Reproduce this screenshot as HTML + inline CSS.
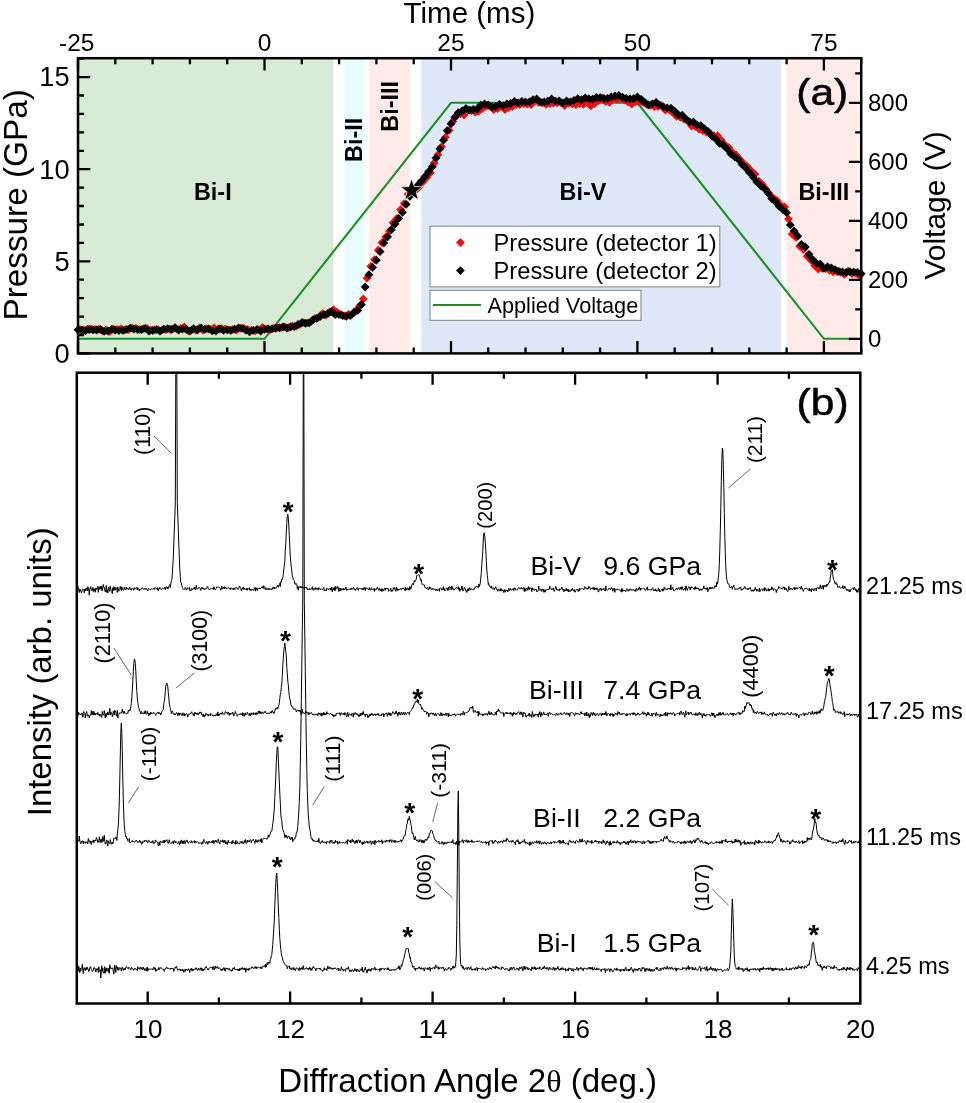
<!DOCTYPE html>
<html lang="en"><head><meta charset="utf-8"><title>Bi phase transitions under dynamic compression</title>
<style>
html,body{margin:0;padding:0;background:#fff;}
body{width:966px;height:1103px;overflow:hidden;}
svg{display:block;font-family:"Liberation Sans", Arial, sans-serif;fill:#000;}
.ax{stroke:#000;stroke-width:2.5;fill:none;stroke-linecap:square}
.tk{stroke:#000;stroke-width:2.3;fill:none}
.tl{font-size:24.5px}
.tl2{font-size:27.3px}
.tl3{font-size:24px}
.bd{font-weight:bold;font-size:23.4px}
.pk{font-size:22px}
.tr{fill:none;stroke:#000;stroke-width:1;stroke-linejoin:round}
.ld{stroke:#555;stroke-width:0.9;fill:none}
.st{font-weight:bold;font-size:28px;text-anchor:middle}
.lb{font-size:23.75px}
.ph{font-size:26.7px}
.tm{font-size:23.5px}
</style></head><body>
<svg width="966" height="1103" viewBox="0 0 966 1103">
<rect width="966" height="1103" fill="#fff"/>

<g id="regions">
<rect x="78.0" y="58.2" width="255.2" height="295.2" fill="#d7ebd6"/>
<rect x="344.5" y="58.2" width="20.1" height="295.2" fill="#e8fcfd"/>
<rect x="368.8" y="58.2" width="40.5" height="295.2" fill="#fdeae9"/>
<rect x="421.2" y="58.2" width="360.0" height="295.2" fill="#dfe8f8"/>
<rect x="786.6" y="58.2" width="71.8" height="295.2" fill="#fdeae9"/>
</g>
<polyline fill="none" stroke="#1c9026" stroke-width="2.1" stroke-linejoin="miter" points="78.0,338.8 264.5,338.8 451.0,102.8 637.4,102.8 823.9,338.8 850.2,338.8"/>
<g id="pressure-data">
<path fill="#f10d0d" d="M79.9,324.9l4.4,4.4l-4.4,4.4l-4.4,-4.4zM83.6,325.6l4.4,4.4l-4.4,4.4l-4.4,-4.4zM87.3,324.8l4.4,4.4l-4.4,4.4l-4.4,-4.4zM91.1,324.5l4.4,4.4l-4.4,4.4l-4.4,-4.4zM94.8,325.0l4.4,4.4l-4.4,4.4l-4.4,-4.4zM98.5,324.8l4.4,4.4l-4.4,4.4l-4.4,-4.4zM102.2,326.3l4.4,4.4l-4.4,4.4l-4.4,-4.4zM106.0,325.8l4.4,4.4l-4.4,4.4l-4.4,-4.4zM109.7,327.3l4.4,4.4l-4.4,4.4l-4.4,-4.4zM113.4,324.6l4.4,4.4l-4.4,4.4l-4.4,-4.4zM117.2,325.0l4.4,4.4l-4.4,4.4l-4.4,-4.4zM120.9,324.2l4.4,4.4l-4.4,4.4l-4.4,-4.4zM124.6,325.6l4.4,4.4l-4.4,4.4l-4.4,-4.4zM128.3,325.3l4.4,4.4l-4.4,4.4l-4.4,-4.4zM132.1,323.6l4.4,4.4l-4.4,4.4l-4.4,-4.4zM135.8,323.7l4.4,4.4l-4.4,4.4l-4.4,-4.4zM139.5,325.2l4.4,4.4l-4.4,4.4l-4.4,-4.4zM143.3,324.3l4.4,4.4l-4.4,4.4l-4.4,-4.4zM147.0,324.0l4.4,4.4l-4.4,4.4l-4.4,-4.4zM150.7,325.7l4.4,4.4l-4.4,4.4l-4.4,-4.4zM154.5,325.5l4.4,4.4l-4.4,4.4l-4.4,-4.4zM158.2,325.2l4.4,4.4l-4.4,4.4l-4.4,-4.4zM161.9,325.7l4.4,4.4l-4.4,4.4l-4.4,-4.4zM165.6,325.3l4.4,4.4l-4.4,4.4l-4.4,-4.4zM169.4,324.5l4.4,4.4l-4.4,4.4l-4.4,-4.4zM173.1,324.4l4.4,4.4l-4.4,4.4l-4.4,-4.4zM176.8,324.7l4.4,4.4l-4.4,4.4l-4.4,-4.4zM180.6,324.0l4.4,4.4l-4.4,4.4l-4.4,-4.4zM184.3,322.5l4.4,4.4l-4.4,4.4l-4.4,-4.4zM188.0,326.4l4.4,4.4l-4.4,4.4l-4.4,-4.4zM191.8,325.4l4.4,4.4l-4.4,4.4l-4.4,-4.4zM195.5,325.7l4.4,4.4l-4.4,4.4l-4.4,-4.4zM199.2,323.5l4.4,4.4l-4.4,4.4l-4.4,-4.4zM202.9,325.8l4.4,4.4l-4.4,4.4l-4.4,-4.4zM206.7,324.3l4.4,4.4l-4.4,4.4l-4.4,-4.4zM210.4,324.8l4.4,4.4l-4.4,4.4l-4.4,-4.4zM214.1,323.4l4.4,4.4l-4.4,4.4l-4.4,-4.4zM217.9,324.5l4.4,4.4l-4.4,4.4l-4.4,-4.4zM221.6,324.1l4.4,4.4l-4.4,4.4l-4.4,-4.4zM225.3,324.5l4.4,4.4l-4.4,4.4l-4.4,-4.4zM229.0,325.4l4.4,4.4l-4.4,4.4l-4.4,-4.4zM232.8,325.0l4.4,4.4l-4.4,4.4l-4.4,-4.4zM236.5,325.8l4.4,4.4l-4.4,4.4l-4.4,-4.4zM240.2,323.8l4.4,4.4l-4.4,4.4l-4.4,-4.4zM244.0,323.9l4.4,4.4l-4.4,4.4l-4.4,-4.4zM247.7,325.0l4.4,4.4l-4.4,4.4l-4.4,-4.4zM251.4,325.8l4.4,4.4l-4.4,4.4l-4.4,-4.4zM255.2,326.4l4.4,4.4l-4.4,4.4l-4.4,-4.4zM258.9,325.6l4.4,4.4l-4.4,4.4l-4.4,-4.4zM262.6,322.9l4.4,4.4l-4.4,4.4l-4.4,-4.4zM266.3,324.5l4.4,4.4l-4.4,4.4l-4.4,-4.4zM270.1,325.3l4.4,4.4l-4.4,4.4l-4.4,-4.4zM273.8,323.7l4.4,4.4l-4.4,4.4l-4.4,-4.4zM277.5,322.9l4.4,4.4l-4.4,4.4l-4.4,-4.4zM281.3,323.3l4.4,4.4l-4.4,4.4l-4.4,-4.4zM285.0,322.4l4.4,4.4l-4.4,4.4l-4.4,-4.4zM288.7,323.1l4.4,4.4l-4.4,4.4l-4.4,-4.4zM292.4,321.7l4.4,4.4l-4.4,4.4l-4.4,-4.4zM296.2,321.8l4.4,4.4l-4.4,4.4l-4.4,-4.4zM299.9,320.0l4.4,4.4l-4.4,4.4l-4.4,-4.4zM303.6,318.0l4.4,4.4l-4.4,4.4l-4.4,-4.4zM307.4,318.4l4.4,4.4l-4.4,4.4l-4.4,-4.4zM311.1,317.0l4.4,4.4l-4.4,4.4l-4.4,-4.4zM314.8,314.0l4.4,4.4l-4.4,4.4l-4.4,-4.4zM318.6,312.9l4.4,4.4l-4.4,4.4l-4.4,-4.4zM322.3,309.2l4.4,4.4l-4.4,4.4l-4.4,-4.4zM326.0,310.7l4.4,4.4l-4.4,4.4l-4.4,-4.4zM329.7,307.5l4.4,4.4l-4.4,4.4l-4.4,-4.4zM333.5,305.3l4.4,4.4l-4.4,4.4l-4.4,-4.4zM337.2,308.1l4.4,4.4l-4.4,4.4l-4.4,-4.4zM340.9,310.1l4.4,4.4l-4.4,4.4l-4.4,-4.4zM344.7,311.5l4.4,4.4l-4.4,4.4l-4.4,-4.4zM348.4,309.9l4.4,4.4l-4.4,4.4l-4.4,-4.4zM352.1,309.8l4.4,4.4l-4.4,4.4l-4.4,-4.4zM355.8,306.2l4.4,4.4l-4.4,4.4l-4.4,-4.4zM359.6,301.6l4.4,4.4l-4.4,4.4l-4.4,-4.4zM363.3,294.4l4.4,4.4l-4.4,4.4l-4.4,-4.4zM367.0,273.8l4.4,4.4l-4.4,4.4l-4.4,-4.4zM370.8,261.9l4.4,4.4l-4.4,4.4l-4.4,-4.4zM374.5,255.3l4.4,4.4l-4.4,4.4l-4.4,-4.4zM378.2,245.8l4.4,4.4l-4.4,4.4l-4.4,-4.4zM382.0,238.2l4.4,4.4l-4.4,4.4l-4.4,-4.4zM385.7,232.6l4.4,4.4l-4.4,4.4l-4.4,-4.4zM389.4,226.8l4.4,4.4l-4.4,4.4l-4.4,-4.4zM393.1,218.3l4.4,4.4l-4.4,4.4l-4.4,-4.4zM396.9,214.0l4.4,4.4l-4.4,4.4l-4.4,-4.4zM400.6,205.2l4.4,4.4l-4.4,4.4l-4.4,-4.4zM404.3,199.1l4.4,4.4l-4.4,4.4l-4.4,-4.4zM408.1,189.8l4.4,4.4l-4.4,4.4l-4.4,-4.4zM411.8,184.8l4.4,4.4l-4.4,4.4l-4.4,-4.4zM415.5,186.3l4.4,4.4l-4.4,4.4l-4.4,-4.4zM419.3,182.8l4.4,4.4l-4.4,4.4l-4.4,-4.4zM423.0,177.3l4.4,4.4l-4.4,4.4l-4.4,-4.4zM426.7,173.2l4.4,4.4l-4.4,4.4l-4.4,-4.4zM430.4,168.3l4.4,4.4l-4.4,4.4l-4.4,-4.4zM434.2,158.5l4.4,4.4l-4.4,4.4l-4.4,-4.4zM437.9,150.3l4.4,4.4l-4.4,4.4l-4.4,-4.4zM441.6,142.4l4.4,4.4l-4.4,4.4l-4.4,-4.4zM445.4,132.9l4.4,4.4l-4.4,4.4l-4.4,-4.4zM449.1,126.0l4.4,4.4l-4.4,4.4l-4.4,-4.4zM452.8,117.2l4.4,4.4l-4.4,4.4l-4.4,-4.4zM456.5,111.4l4.4,4.4l-4.4,4.4l-4.4,-4.4zM460.3,109.5l4.4,4.4l-4.4,4.4l-4.4,-4.4zM464.0,110.5l4.4,4.4l-4.4,4.4l-4.4,-4.4zM467.7,106.2l4.4,4.4l-4.4,4.4l-4.4,-4.4zM471.5,106.3l4.4,4.4l-4.4,4.4l-4.4,-4.4zM475.2,107.8l4.4,4.4l-4.4,4.4l-4.4,-4.4zM478.9,106.5l4.4,4.4l-4.4,4.4l-4.4,-4.4zM482.7,103.9l4.4,4.4l-4.4,4.4l-4.4,-4.4zM486.4,101.7l4.4,4.4l-4.4,4.4l-4.4,-4.4zM490.1,102.0l4.4,4.4l-4.4,4.4l-4.4,-4.4zM493.8,105.1l4.4,4.4l-4.4,4.4l-4.4,-4.4zM497.6,104.2l4.4,4.4l-4.4,4.4l-4.4,-4.4zM501.3,102.2l4.4,4.4l-4.4,4.4l-4.4,-4.4zM505.0,105.2l4.4,4.4l-4.4,4.4l-4.4,-4.4zM508.8,103.2l4.4,4.4l-4.4,4.4l-4.4,-4.4zM512.5,102.0l4.4,4.4l-4.4,4.4l-4.4,-4.4zM516.2,100.1l4.4,4.4l-4.4,4.4l-4.4,-4.4zM519.9,100.1l4.4,4.4l-4.4,4.4l-4.4,-4.4zM523.7,99.3l4.4,4.4l-4.4,4.4l-4.4,-4.4zM527.4,99.6l4.4,4.4l-4.4,4.4l-4.4,-4.4zM531.1,100.3l4.4,4.4l-4.4,4.4l-4.4,-4.4zM534.9,96.6l4.4,4.4l-4.4,4.4l-4.4,-4.4zM538.6,97.9l4.4,4.4l-4.4,4.4l-4.4,-4.4zM542.3,98.5l4.4,4.4l-4.4,4.4l-4.4,-4.4zM546.1,99.9l4.4,4.4l-4.4,4.4l-4.4,-4.4zM549.8,99.1l4.4,4.4l-4.4,4.4l-4.4,-4.4zM553.5,98.6l4.4,4.4l-4.4,4.4l-4.4,-4.4zM557.2,98.4l4.4,4.4l-4.4,4.4l-4.4,-4.4zM561.0,98.4l4.4,4.4l-4.4,4.4l-4.4,-4.4zM564.7,101.1l4.4,4.4l-4.4,4.4l-4.4,-4.4zM568.4,98.8l4.4,4.4l-4.4,4.4l-4.4,-4.4zM572.2,99.5l4.4,4.4l-4.4,4.4l-4.4,-4.4zM575.9,100.1l4.4,4.4l-4.4,4.4l-4.4,-4.4zM579.6,99.3l4.4,4.4l-4.4,4.4l-4.4,-4.4zM583.4,99.9l4.4,4.4l-4.4,4.4l-4.4,-4.4zM587.1,96.8l4.4,4.4l-4.4,4.4l-4.4,-4.4zM590.8,101.5l4.4,4.4l-4.4,4.4l-4.4,-4.4zM594.5,99.3l4.4,4.4l-4.4,4.4l-4.4,-4.4zM598.3,96.3l4.4,4.4l-4.4,4.4l-4.4,-4.4zM602.0,93.5l4.4,4.4l-4.4,4.4l-4.4,-4.4zM605.7,97.3l4.4,4.4l-4.4,4.4l-4.4,-4.4zM609.5,97.9l4.4,4.4l-4.4,4.4l-4.4,-4.4zM613.2,94.1l4.4,4.4l-4.4,4.4l-4.4,-4.4zM616.9,95.0l4.4,4.4l-4.4,4.4l-4.4,-4.4zM620.6,94.0l4.4,4.4l-4.4,4.4l-4.4,-4.4zM624.4,95.6l4.4,4.4l-4.4,4.4l-4.4,-4.4zM628.1,97.7l4.4,4.4l-4.4,4.4l-4.4,-4.4zM631.8,99.6l4.4,4.4l-4.4,4.4l-4.4,-4.4zM635.6,97.2l4.4,4.4l-4.4,4.4l-4.4,-4.4zM639.3,97.8l4.4,4.4l-4.4,4.4l-4.4,-4.4zM643.0,97.9l4.4,4.4l-4.4,4.4l-4.4,-4.4zM646.8,100.1l4.4,4.4l-4.4,4.4l-4.4,-4.4zM650.5,100.9l4.4,4.4l-4.4,4.4l-4.4,-4.4zM654.2,102.1l4.4,4.4l-4.4,4.4l-4.4,-4.4zM657.9,102.0l4.4,4.4l-4.4,4.4l-4.4,-4.4zM661.7,101.3l4.4,4.4l-4.4,4.4l-4.4,-4.4zM665.4,105.7l4.4,4.4l-4.4,4.4l-4.4,-4.4zM669.1,105.0l4.4,4.4l-4.4,4.4l-4.4,-4.4zM672.9,108.5l4.4,4.4l-4.4,4.4l-4.4,-4.4zM676.6,112.0l4.4,4.4l-4.4,4.4l-4.4,-4.4zM680.3,112.9l4.4,4.4l-4.4,4.4l-4.4,-4.4zM684.0,114.8l4.4,4.4l-4.4,4.4l-4.4,-4.4zM687.8,116.7l4.4,4.4l-4.4,4.4l-4.4,-4.4zM691.5,121.6l4.4,4.4l-4.4,4.4l-4.4,-4.4zM695.2,122.0l4.4,4.4l-4.4,4.4l-4.4,-4.4zM699.0,124.6l4.4,4.4l-4.4,4.4l-4.4,-4.4zM702.7,126.3l4.4,4.4l-4.4,4.4l-4.4,-4.4zM706.4,127.6l4.4,4.4l-4.4,4.4l-4.4,-4.4zM710.2,129.3l4.4,4.4l-4.4,4.4l-4.4,-4.4zM713.9,131.2l4.4,4.4l-4.4,4.4l-4.4,-4.4zM717.6,131.3l4.4,4.4l-4.4,4.4l-4.4,-4.4zM721.3,135.7l4.4,4.4l-4.4,4.4l-4.4,-4.4zM725.1,140.5l4.4,4.4l-4.4,4.4l-4.4,-4.4zM728.8,143.3l4.4,4.4l-4.4,4.4l-4.4,-4.4zM732.5,148.0l4.4,4.4l-4.4,4.4l-4.4,-4.4zM736.3,150.8l4.4,4.4l-4.4,4.4l-4.4,-4.4zM740.0,155.1l4.4,4.4l-4.4,4.4l-4.4,-4.4zM743.7,159.2l4.4,4.4l-4.4,4.4l-4.4,-4.4zM747.4,162.0l4.4,4.4l-4.4,4.4l-4.4,-4.4zM751.2,166.4l4.4,4.4l-4.4,4.4l-4.4,-4.4zM754.9,169.6l4.4,4.4l-4.4,4.4l-4.4,-4.4zM758.6,176.5l4.4,4.4l-4.4,4.4l-4.4,-4.4zM762.4,180.1l4.4,4.4l-4.4,4.4l-4.4,-4.4zM766.1,184.9l4.4,4.4l-4.4,4.4l-4.4,-4.4zM769.8,190.0l4.4,4.4l-4.4,4.4l-4.4,-4.4zM773.6,193.7l4.4,4.4l-4.4,4.4l-4.4,-4.4zM777.3,196.3l4.4,4.4l-4.4,4.4l-4.4,-4.4zM781.0,200.9l4.4,4.4l-4.4,4.4l-4.4,-4.4zM784.7,202.5l4.4,4.4l-4.4,4.4l-4.4,-4.4zM788.5,214.7l4.4,4.4l-4.4,4.4l-4.4,-4.4zM792.2,229.7l4.4,4.4l-4.4,4.4l-4.4,-4.4zM795.9,233.0l4.4,4.4l-4.4,4.4l-4.4,-4.4zM799.7,241.8l4.4,4.4l-4.4,4.4l-4.4,-4.4zM803.4,244.9l4.4,4.4l-4.4,4.4l-4.4,-4.4zM807.1,251.9l4.4,4.4l-4.4,4.4l-4.4,-4.4zM810.9,255.8l4.4,4.4l-4.4,4.4l-4.4,-4.4zM814.6,261.2l4.4,4.4l-4.4,4.4l-4.4,-4.4zM818.3,264.6l4.4,4.4l-4.4,4.4l-4.4,-4.4zM822.0,264.0l4.4,4.4l-4.4,4.4l-4.4,-4.4zM825.8,264.1l4.4,4.4l-4.4,4.4l-4.4,-4.4zM829.5,265.9l4.4,4.4l-4.4,4.4l-4.4,-4.4zM833.2,267.5l4.4,4.4l-4.4,4.4l-4.4,-4.4zM837.0,267.1l4.4,4.4l-4.4,4.4l-4.4,-4.4zM840.7,267.9l4.4,4.4l-4.4,4.4l-4.4,-4.4zM844.4,270.0l4.4,4.4l-4.4,4.4l-4.4,-4.4zM848.1,266.8l4.4,4.4l-4.4,4.4l-4.4,-4.4zM851.9,269.2l4.4,4.4l-4.4,4.4l-4.4,-4.4zM855.6,268.6l4.4,4.4l-4.4,4.4l-4.4,-4.4zM859.3,271.3l4.4,4.4l-4.4,4.4l-4.4,-4.4z"/>
<path fill="#000" d="M78.0,325.4l4.4,4.4l-4.4,4.4l-4.4,-4.4zM81.7,325.7l4.4,4.4l-4.4,4.4l-4.4,-4.4zM85.5,326.3l4.4,4.4l-4.4,4.4l-4.4,-4.4zM89.2,325.1l4.4,4.4l-4.4,4.4l-4.4,-4.4zM92.9,325.5l4.4,4.4l-4.4,4.4l-4.4,-4.4zM96.6,325.6l4.4,4.4l-4.4,4.4l-4.4,-4.4zM100.4,324.9l4.4,4.4l-4.4,4.4l-4.4,-4.4zM104.1,327.0l4.4,4.4l-4.4,4.4l-4.4,-4.4zM107.8,326.6l4.4,4.4l-4.4,4.4l-4.4,-4.4zM111.6,324.9l4.4,4.4l-4.4,4.4l-4.4,-4.4zM115.3,325.7l4.4,4.4l-4.4,4.4l-4.4,-4.4zM119.0,326.2l4.4,4.4l-4.4,4.4l-4.4,-4.4zM122.8,326.0l4.4,4.4l-4.4,4.4l-4.4,-4.4zM126.5,325.0l4.4,4.4l-4.4,4.4l-4.4,-4.4zM130.2,323.8l4.4,4.4l-4.4,4.4l-4.4,-4.4zM133.9,324.8l4.4,4.4l-4.4,4.4l-4.4,-4.4zM137.7,325.2l4.4,4.4l-4.4,4.4l-4.4,-4.4zM141.4,325.3l4.4,4.4l-4.4,4.4l-4.4,-4.4zM145.1,323.9l4.4,4.4l-4.4,4.4l-4.4,-4.4zM148.9,326.6l4.4,4.4l-4.4,4.4l-4.4,-4.4zM152.6,326.1l4.4,4.4l-4.4,4.4l-4.4,-4.4zM156.3,325.1l4.4,4.4l-4.4,4.4l-4.4,-4.4zM160.0,326.8l4.4,4.4l-4.4,4.4l-4.4,-4.4zM163.8,324.7l4.4,4.4l-4.4,4.4l-4.4,-4.4zM167.5,324.3l4.4,4.4l-4.4,4.4l-4.4,-4.4zM171.2,325.1l4.4,4.4l-4.4,4.4l-4.4,-4.4zM175.0,323.2l4.4,4.4l-4.4,4.4l-4.4,-4.4zM178.7,325.6l4.4,4.4l-4.4,4.4l-4.4,-4.4zM182.4,324.7l4.4,4.4l-4.4,4.4l-4.4,-4.4zM186.2,325.0l4.4,4.4l-4.4,4.4l-4.4,-4.4zM189.9,326.8l4.4,4.4l-4.4,4.4l-4.4,-4.4zM193.6,324.2l4.4,4.4l-4.4,4.4l-4.4,-4.4zM197.3,325.6l4.4,4.4l-4.4,4.4l-4.4,-4.4zM201.1,323.5l4.4,4.4l-4.4,4.4l-4.4,-4.4zM204.8,324.9l4.4,4.4l-4.4,4.4l-4.4,-4.4zM208.5,324.5l4.4,4.4l-4.4,4.4l-4.4,-4.4zM212.3,326.5l4.4,4.4l-4.4,4.4l-4.4,-4.4zM216.0,326.7l4.4,4.4l-4.4,4.4l-4.4,-4.4zM219.7,324.6l4.4,4.4l-4.4,4.4l-4.4,-4.4zM223.5,325.9l4.4,4.4l-4.4,4.4l-4.4,-4.4zM227.2,325.4l4.4,4.4l-4.4,4.4l-4.4,-4.4zM230.9,326.0l4.4,4.4l-4.4,4.4l-4.4,-4.4zM234.6,324.8l4.4,4.4l-4.4,4.4l-4.4,-4.4zM238.4,323.4l4.4,4.4l-4.4,4.4l-4.4,-4.4zM242.1,324.0l4.4,4.4l-4.4,4.4l-4.4,-4.4zM245.8,325.8l4.4,4.4l-4.4,4.4l-4.4,-4.4zM249.6,327.5l4.4,4.4l-4.4,4.4l-4.4,-4.4zM253.3,325.9l4.4,4.4l-4.4,4.4l-4.4,-4.4zM257.0,324.9l4.4,4.4l-4.4,4.4l-4.4,-4.4zM260.7,326.7l4.4,4.4l-4.4,4.4l-4.4,-4.4zM264.5,325.0l4.4,4.4l-4.4,4.4l-4.4,-4.4zM268.2,324.6l4.4,4.4l-4.4,4.4l-4.4,-4.4zM271.9,324.5l4.4,4.4l-4.4,4.4l-4.4,-4.4zM275.7,324.0l4.4,4.4l-4.4,4.4l-4.4,-4.4zM279.4,323.4l4.4,4.4l-4.4,4.4l-4.4,-4.4zM283.1,322.5l4.4,4.4l-4.4,4.4l-4.4,-4.4zM286.9,323.7l4.4,4.4l-4.4,4.4l-4.4,-4.4zM290.6,322.5l4.4,4.4l-4.4,4.4l-4.4,-4.4zM294.3,322.2l4.4,4.4l-4.4,4.4l-4.4,-4.4zM298.0,320.1l4.4,4.4l-4.4,4.4l-4.4,-4.4zM301.8,318.3l4.4,4.4l-4.4,4.4l-4.4,-4.4zM305.5,318.9l4.4,4.4l-4.4,4.4l-4.4,-4.4zM309.2,318.5l4.4,4.4l-4.4,4.4l-4.4,-4.4zM313.0,315.4l4.4,4.4l-4.4,4.4l-4.4,-4.4zM316.7,314.0l4.4,4.4l-4.4,4.4l-4.4,-4.4zM320.4,311.9l4.4,4.4l-4.4,4.4l-4.4,-4.4zM324.1,310.3l4.4,4.4l-4.4,4.4l-4.4,-4.4zM327.9,309.0l4.4,4.4l-4.4,4.4l-4.4,-4.4zM331.6,307.3l4.4,4.4l-4.4,4.4l-4.4,-4.4zM335.3,310.3l4.4,4.4l-4.4,4.4l-4.4,-4.4zM339.1,310.3l4.4,4.4l-4.4,4.4l-4.4,-4.4zM342.8,311.2l4.4,4.4l-4.4,4.4l-4.4,-4.4zM346.5,311.9l4.4,4.4l-4.4,4.4l-4.4,-4.4zM350.3,311.3l4.4,4.4l-4.4,4.4l-4.4,-4.4zM354.0,308.1l4.4,4.4l-4.4,4.4l-4.4,-4.4zM357.7,306.0l4.4,4.4l-4.4,4.4l-4.4,-4.4zM361.4,300.2l4.4,4.4l-4.4,4.4l-4.4,-4.4zM365.2,282.6l4.4,4.4l-4.4,4.4l-4.4,-4.4zM368.9,270.3l4.4,4.4l-4.4,4.4l-4.4,-4.4zM372.6,263.0l4.4,4.4l-4.4,4.4l-4.4,-4.4zM376.4,255.8l4.4,4.4l-4.4,4.4l-4.4,-4.4zM380.1,247.2l4.4,4.4l-4.4,4.4l-4.4,-4.4zM383.8,238.5l4.4,4.4l-4.4,4.4l-4.4,-4.4zM387.6,232.4l4.4,4.4l-4.4,4.4l-4.4,-4.4zM391.3,225.3l4.4,4.4l-4.4,4.4l-4.4,-4.4zM395.0,219.6l4.4,4.4l-4.4,4.4l-4.4,-4.4zM398.7,214.0l4.4,4.4l-4.4,4.4l-4.4,-4.4zM402.5,207.9l4.4,4.4l-4.4,4.4l-4.4,-4.4zM406.2,199.9l4.4,4.4l-4.4,4.4l-4.4,-4.4zM409.9,192.0l4.4,4.4l-4.4,4.4l-4.4,-4.4zM413.7,186.4l4.4,4.4l-4.4,4.4l-4.4,-4.4zM417.4,181.3l4.4,4.4l-4.4,4.4l-4.4,-4.4zM421.1,176.9l4.4,4.4l-4.4,4.4l-4.4,-4.4zM424.8,172.3l4.4,4.4l-4.4,4.4l-4.4,-4.4zM428.6,167.3l4.4,4.4l-4.4,4.4l-4.4,-4.4zM432.3,162.4l4.4,4.4l-4.4,4.4l-4.4,-4.4zM436.0,153.6l4.4,4.4l-4.4,4.4l-4.4,-4.4zM439.8,144.4l4.4,4.4l-4.4,4.4l-4.4,-4.4zM443.5,135.8l4.4,4.4l-4.4,4.4l-4.4,-4.4zM447.2,126.3l4.4,4.4l-4.4,4.4l-4.4,-4.4zM451.0,119.4l4.4,4.4l-4.4,4.4l-4.4,-4.4zM454.7,113.1l4.4,4.4l-4.4,4.4l-4.4,-4.4zM458.4,108.2l4.4,4.4l-4.4,4.4l-4.4,-4.4zM462.1,106.5l4.4,4.4l-4.4,4.4l-4.4,-4.4zM465.9,104.1l4.4,4.4l-4.4,4.4l-4.4,-4.4zM469.6,105.6l4.4,4.4l-4.4,4.4l-4.4,-4.4zM473.3,105.0l4.4,4.4l-4.4,4.4l-4.4,-4.4zM477.1,104.6l4.4,4.4l-4.4,4.4l-4.4,-4.4zM480.8,100.7l4.4,4.4l-4.4,4.4l-4.4,-4.4zM484.5,99.6l4.4,4.4l-4.4,4.4l-4.4,-4.4zM488.2,100.6l4.4,4.4l-4.4,4.4l-4.4,-4.4zM492.0,102.6l4.4,4.4l-4.4,4.4l-4.4,-4.4zM495.7,101.9l4.4,4.4l-4.4,4.4l-4.4,-4.4zM499.4,100.0l4.4,4.4l-4.4,4.4l-4.4,-4.4zM503.2,101.3l4.4,4.4l-4.4,4.4l-4.4,-4.4zM506.9,99.6l4.4,4.4l-4.4,4.4l-4.4,-4.4zM510.6,99.1l4.4,4.4l-4.4,4.4l-4.4,-4.4zM514.4,97.0l4.4,4.4l-4.4,4.4l-4.4,-4.4zM518.1,98.4l4.4,4.4l-4.4,4.4l-4.4,-4.4zM521.8,96.9l4.4,4.4l-4.4,4.4l-4.4,-4.4zM525.5,97.5l4.4,4.4l-4.4,4.4l-4.4,-4.4zM529.3,97.6l4.4,4.4l-4.4,4.4l-4.4,-4.4zM533.0,95.3l4.4,4.4l-4.4,4.4l-4.4,-4.4zM536.7,94.6l4.4,4.4l-4.4,4.4l-4.4,-4.4zM540.5,97.7l4.4,4.4l-4.4,4.4l-4.4,-4.4zM544.2,97.5l4.4,4.4l-4.4,4.4l-4.4,-4.4zM547.9,96.7l4.4,4.4l-4.4,4.4l-4.4,-4.4zM551.6,94.6l4.4,4.4l-4.4,4.4l-4.4,-4.4zM555.4,96.8l4.4,4.4l-4.4,4.4l-4.4,-4.4zM559.1,96.4l4.4,4.4l-4.4,4.4l-4.4,-4.4zM562.8,98.5l4.4,4.4l-4.4,4.4l-4.4,-4.4zM566.6,96.6l4.4,4.4l-4.4,4.4l-4.4,-4.4zM570.3,97.4l4.4,4.4l-4.4,4.4l-4.4,-4.4zM574.0,95.9l4.4,4.4l-4.4,4.4l-4.4,-4.4zM577.8,94.2l4.4,4.4l-4.4,4.4l-4.4,-4.4zM581.5,95.4l4.4,4.4l-4.4,4.4l-4.4,-4.4zM585.2,93.6l4.4,4.4l-4.4,4.4l-4.4,-4.4zM588.9,94.3l4.4,4.4l-4.4,4.4l-4.4,-4.4zM592.7,94.7l4.4,4.4l-4.4,4.4l-4.4,-4.4zM596.4,93.1l4.4,4.4l-4.4,4.4l-4.4,-4.4zM600.1,93.3l4.4,4.4l-4.4,4.4l-4.4,-4.4zM603.9,94.1l4.4,4.4l-4.4,4.4l-4.4,-4.4zM607.6,94.0l4.4,4.4l-4.4,4.4l-4.4,-4.4zM611.3,92.5l4.4,4.4l-4.4,4.4l-4.4,-4.4zM615.1,91.6l4.4,4.4l-4.4,4.4l-4.4,-4.4zM618.8,91.1l4.4,4.4l-4.4,4.4l-4.4,-4.4zM622.5,92.8l4.4,4.4l-4.4,4.4l-4.4,-4.4zM626.2,93.9l4.4,4.4l-4.4,4.4l-4.4,-4.4zM630.0,94.4l4.4,4.4l-4.4,4.4l-4.4,-4.4zM633.7,94.1l4.4,4.4l-4.4,4.4l-4.4,-4.4zM637.4,92.5l4.4,4.4l-4.4,4.4l-4.4,-4.4zM641.2,94.9l4.4,4.4l-4.4,4.4l-4.4,-4.4zM644.9,97.9l4.4,4.4l-4.4,4.4l-4.4,-4.4zM648.6,100.4l4.4,4.4l-4.4,4.4l-4.4,-4.4zM652.3,99.5l4.4,4.4l-4.4,4.4l-4.4,-4.4zM656.1,97.9l4.4,4.4l-4.4,4.4l-4.4,-4.4zM659.8,100.7l4.4,4.4l-4.4,4.4l-4.4,-4.4zM663.5,102.4l4.4,4.4l-4.4,4.4l-4.4,-4.4zM667.3,103.5l4.4,4.4l-4.4,4.4l-4.4,-4.4zM671.0,103.8l4.4,4.4l-4.4,4.4l-4.4,-4.4zM674.7,106.8l4.4,4.4l-4.4,4.4l-4.4,-4.4zM678.5,110.4l4.4,4.4l-4.4,4.4l-4.4,-4.4zM682.2,110.8l4.4,4.4l-4.4,4.4l-4.4,-4.4zM685.9,114.6l4.4,4.4l-4.4,4.4l-4.4,-4.4zM689.6,117.4l4.4,4.4l-4.4,4.4l-4.4,-4.4zM693.4,117.5l4.4,4.4l-4.4,4.4l-4.4,-4.4zM697.1,120.5l4.4,4.4l-4.4,4.4l-4.4,-4.4zM700.8,121.2l4.4,4.4l-4.4,4.4l-4.4,-4.4zM704.6,124.4l4.4,4.4l-4.4,4.4l-4.4,-4.4zM708.3,127.3l4.4,4.4l-4.4,4.4l-4.4,-4.4zM712.0,131.6l4.4,4.4l-4.4,4.4l-4.4,-4.4zM715.7,134.5l4.4,4.4l-4.4,4.4l-4.4,-4.4zM719.5,138.9l4.4,4.4l-4.4,4.4l-4.4,-4.4zM723.2,140.7l4.4,4.4l-4.4,4.4l-4.4,-4.4zM726.9,144.3l4.4,4.4l-4.4,4.4l-4.4,-4.4zM730.7,149.3l4.4,4.4l-4.4,4.4l-4.4,-4.4zM734.4,152.3l4.4,4.4l-4.4,4.4l-4.4,-4.4zM738.1,154.8l4.4,4.4l-4.4,4.4l-4.4,-4.4zM741.9,159.9l4.4,4.4l-4.4,4.4l-4.4,-4.4zM745.6,163.5l4.4,4.4l-4.4,4.4l-4.4,-4.4zM749.3,168.0l4.4,4.4l-4.4,4.4l-4.4,-4.4zM753.0,172.4l4.4,4.4l-4.4,4.4l-4.4,-4.4zM756.8,177.5l4.4,4.4l-4.4,4.4l-4.4,-4.4zM760.5,181.2l4.4,4.4l-4.4,4.4l-4.4,-4.4zM764.2,184.0l4.4,4.4l-4.4,4.4l-4.4,-4.4zM768.0,188.4l4.4,4.4l-4.4,4.4l-4.4,-4.4zM771.7,194.2l4.4,4.4l-4.4,4.4l-4.4,-4.4zM775.4,197.1l4.4,4.4l-4.4,4.4l-4.4,-4.4zM779.2,202.0l4.4,4.4l-4.4,4.4l-4.4,-4.4zM782.9,205.1l4.4,4.4l-4.4,4.4l-4.4,-4.4zM786.6,208.3l4.4,4.4l-4.4,4.4l-4.4,-4.4zM790.3,220.5l4.4,4.4l-4.4,4.4l-4.4,-4.4zM794.1,226.5l4.4,4.4l-4.4,4.4l-4.4,-4.4zM797.8,231.8l4.4,4.4l-4.4,4.4l-4.4,-4.4zM801.5,240.1l4.4,4.4l-4.4,4.4l-4.4,-4.4zM805.3,242.6l4.4,4.4l-4.4,4.4l-4.4,-4.4zM809.0,249.9l4.4,4.4l-4.4,4.4l-4.4,-4.4zM812.7,255.2l4.4,4.4l-4.4,4.4l-4.4,-4.4zM816.4,258.8l4.4,4.4l-4.4,4.4l-4.4,-4.4zM820.2,259.7l4.4,4.4l-4.4,4.4l-4.4,-4.4zM823.9,263.9l4.4,4.4l-4.4,4.4l-4.4,-4.4zM827.6,262.3l4.4,4.4l-4.4,4.4l-4.4,-4.4zM831.4,263.6l4.4,4.4l-4.4,4.4l-4.4,-4.4zM835.1,265.2l4.4,4.4l-4.4,4.4l-4.4,-4.4zM838.8,266.9l4.4,4.4l-4.4,4.4l-4.4,-4.4zM842.6,267.4l4.4,4.4l-4.4,4.4l-4.4,-4.4zM846.3,268.0l4.4,4.4l-4.4,4.4l-4.4,-4.4zM850.0,267.3l4.4,4.4l-4.4,4.4l-4.4,-4.4zM853.7,267.7l4.4,4.4l-4.4,4.4l-4.4,-4.4zM857.5,267.9l4.4,4.4l-4.4,4.4l-4.4,-4.4zM861.2,269.4l4.4,4.4l-4.4,4.4l-4.4,-4.4z"/>
</g>
<polygon points="411.6,178.6 414.4,186.6 422.8,186.8 416.1,191.9 418.5,199.9 411.6,195.1 404.7,199.9 407.1,191.9 400.4,186.8 408.8,186.6" fill="#000" stroke="#fff" stroke-width="0.8"/>
<rect class="ax" x="78.0" y="58.2" width="783.2" height="295.2"/>
<path class="tk" d="M78.0,58.2v12.3M78.0,353.4v-12.3M115.3,58.2v6M115.3,353.4v-6M152.6,58.2v6M152.6,353.4v-6M189.9,58.2v6M189.9,353.4v-6M227.2,58.2v6M227.2,353.4v-6M264.5,58.2v12.3M264.5,353.4v-12.3M301.8,58.2v6M301.8,353.4v-6M339.1,58.2v6M339.1,353.4v-6M376.4,58.2v6M376.4,353.4v-6M413.7,58.2v6M413.7,353.4v-6M451.0,58.2v12.3M451.0,353.4v-12.3M488.2,58.2v6M488.2,353.4v-6M525.5,58.2v6M525.5,353.4v-6M562.8,58.2v6M562.8,353.4v-6M600.1,58.2v6M600.1,353.4v-6M637.4,58.2v12.3M637.4,353.4v-12.3M674.7,58.2v6M674.7,353.4v-6M712.0,58.2v6M712.0,353.4v-6M749.3,58.2v6M749.3,353.4v-6M786.6,58.2v6M786.6,353.4v-6M823.9,58.2v12.3M823.9,353.4v-12.3M861.2,58.2v6M861.2,353.4v-6M78.0,353.4h12.3M78.0,335.0h6M78.0,316.6h6M78.0,298.1h6M78.0,279.7h6M78.0,261.3h12.3M78.0,242.9h6M78.0,224.5h6M78.0,206.0h6M78.0,187.6h6M78.0,169.2h12.3M78.0,150.8h6M78.0,132.4h6M78.0,113.9h6M78.0,95.5h6M78.0,77.1h12.3M78.0,58.7h6M861.2,338.8h-12.3M861.2,309.3h-6M861.2,279.8h-12.3M861.2,250.3h-6M861.2,220.8h-12.3M861.2,191.3h-6M861.2,161.8h-12.3M861.2,132.3h-6M861.2,102.8h-12.3M861.2,73.3h-6"/>
<g class="tl" text-anchor="middle">
<text x="76.8" y="51.2">-25</text>
<text x="264.5" y="51.2">0</text>
<text x="451.0" y="51.2">25</text>
<text x="637.4" y="51.2">50</text>
<text x="823.9" y="51.2">75</text>
</g><g class="tl2" text-anchor="end">
<text x="69.6" y="362.7">0</text>
<text x="69.6" y="270.6">5</text>
<text x="69.6" y="178.5">10</text>
<text x="69.6" y="86.4">15</text>
</g><g class="tl3" text-anchor="start">
<text x="868" y="347.0">0</text>
<text x="868" y="288.0">200</text>
<text x="868" y="229.0">400</text>
<text x="868" y="170.0">600</text>
<text x="868" y="111.0">800</text>
</g>
<text x="469.4" y="23.3" text-anchor="middle" font-size="29.5">Time (ms)</text>
<text transform="translate(26.8,204.9) rotate(-90)" text-anchor="middle" font-size="33.3">Pressure (GPa)</text>
<text transform="translate(945.2,205.4) rotate(-90)" text-anchor="middle" font-size="30">Voltage (V)</text>
<g class="bd" text-anchor="middle">
<text x="212.8" y="200">Bi-I</text>
<text x="583" y="200">Bi-V</text>
<text x="823.8" y="200">Bi-III</text>
<text transform="translate(361.8,139.9) rotate(-90)">Bi-II</text>
<text transform="translate(398.2,106.3) rotate(-90)">Bi-III</text>
</g>
<text transform="translate(796.3,104.8) scale(1.14,1)" font-size="37.3" stroke="#000" stroke-width="0.5">(a)</text>
<g id="legend">
<rect x="430" y="226.2" width="289.8" height="60.7" fill="#fff" stroke="#808080" stroke-width="1"/>
<rect x="430" y="290.3" width="211" height="30" fill="#fff" stroke="#808080" stroke-width="1"/>
<path fill="#f10d0d" d="M460.4,238.1l4.4,4.4l-4.4,4.4l-4.4,-4.4z"/>
<path fill="#000" d="M460.4,266.2l4.4,4.4l-4.4,4.4l-4.4,-4.4z"/>
<text class="lb" x="493.5" y="250.5">Pressure (detector 1)</text>
<text class="lb" x="493.5" y="278.7">Pressure (detector 2)</text>
<path d="M433,305H481" stroke="#1c9026" stroke-width="1.8"/>
<text x="487.5" y="312.7" font-size="21.7">Applied Voltage</text>
</g>
<defs><clipPath id="cb"><rect x="76.8" y="372.7" width="783.5" height="630.8"/></clipPath></defs>
<g id="spectra" clip-path="url(#cb)">
<polyline class="tr" points="76.8,591.8 77.3,591.8 77.8,586.1 78.3,588.7 78.8,590.2 79.3,592.5 79.8,589.0 80.3,589.4 80.8,591.1 81.3,592.8 81.8,592.1 82.3,589.3 82.8,588.9 83.3,589.3 83.8,589.5 84.3,592.9 84.8,589.1 85.3,591.1 85.8,588.9 86.3,587.9 86.8,590.2 87.3,591.0 87.8,586.7 88.3,588.0 88.8,590.1 89.3,595.2 89.8,589.1 90.3,587.7 90.8,586.6 91.3,590.5 91.8,590.7 92.3,590.2 92.8,587.4 93.3,591.6 93.8,589.3 94.3,591.0 94.8,588.5 95.3,592.3 95.8,588.2 96.3,590.0 96.8,589.2 97.3,587.4 97.8,586.1 98.3,592.4 98.8,587.0 99.3,587.6 99.8,589.6 100.3,586.2 100.8,588.7 101.3,586.3 101.8,590.1 102.3,591.0 102.8,586.7 103.3,584.5 103.8,587.7 104.3,587.4 104.8,590.2 105.3,591.9 105.8,589.5 106.3,585.5 106.8,592.6 107.3,589.8 107.8,592.9 108.3,588.7 108.8,586.9 109.3,591.3 109.8,589.9 110.3,586.1 110.8,589.0 111.3,591.6 111.8,592.2 112.3,593.7 112.8,587.7 113.3,590.6 113.8,586.7 114.3,587.1 114.8,590.3 115.3,590.2 115.8,587.3 116.3,588.6 116.8,588.5 117.3,592.5 117.8,587.2 118.3,589.9 118.8,591.3 119.3,589.5 119.8,588.3 120.3,586.5 120.8,589.3 121.3,590.6 121.8,586.8 122.3,589.0 122.8,589.4 123.3,590.3 123.8,590.1 124.3,587.3 124.8,589.1 125.3,589.5 125.8,589.5 126.3,587.0 126.8,589.3 127.3,588.1 127.8,588.5 128.3,588.5 128.8,589.8 129.3,588.1 129.8,587.0 130.3,588.8 130.8,589.8 131.3,590.2 131.8,588.4 132.3,588.7 132.8,588.6 133.3,588.4 133.8,590.3 134.3,587.7 134.8,588.4 135.3,588.7 135.8,588.4 136.3,587.5 136.8,588.6 137.3,589.8 137.8,587.5 138.3,589.2 138.8,589.8 139.3,590.9 139.8,589.0 140.3,590.1 140.8,589.5 141.3,588.5 141.8,588.8 142.3,587.5 142.8,588.3 143.3,589.2 143.8,589.3 144.3,589.4 144.8,588.2 145.3,588.8 145.8,589.5 146.3,588.4 146.8,589.2 147.3,589.8 147.8,590.9 148.3,588.6 148.8,588.8 149.3,589.1 149.8,589.5 150.3,589.9 150.8,589.0 151.3,588.6 151.8,588.9 152.3,588.8 152.8,589.3 153.3,588.4 153.8,588.6 154.3,589.5 154.8,587.9 155.3,587.9 155.8,587.8 156.3,588.6 156.8,588.7 157.3,589.8 157.8,587.6 158.3,590.7 158.8,588.9 159.3,588.9 159.8,587.4 160.3,588.4 160.8,589.3 161.3,589.6 161.8,588.9 162.3,588.1 162.8,588.2 163.3,588.6 163.8,589.0 164.3,588.5 164.8,587.1 165.3,589.5 165.8,588.4 166.3,586.6 166.8,587.6 167.3,588.6 167.8,587.0 168.3,588.5 168.8,587.4 169.3,585.4 169.8,584.5 170.3,587.7 170.8,584.1 171.3,580.6 171.8,579.9 172.3,574.2 172.8,565.5 173.3,557.7 173.8,543.9 174.3,530.0 174.8,517.3 175.3,501.8 175.8,368.5 176.3,352.7 176.8,366.1 177.3,501.7 177.8,516.0 178.3,529.9 178.8,544.8 179.3,556.7 179.8,569.5 180.3,576.5 180.8,582.7 181.3,583.0 181.8,585.6 182.3,587.6 182.8,588.7 183.3,589.0 183.8,589.7 184.3,589.3 184.8,589.5 185.3,587.4 185.8,588.4 186.3,589.9 186.8,589.9 187.3,587.8 187.8,588.6 188.3,588.8 188.8,588.3 189.3,587.3 189.8,590.5 190.3,589.9 190.8,591.0 191.3,588.5 191.8,589.3 192.3,589.5 192.8,589.6 193.3,587.9 193.8,588.7 194.3,589.1 194.8,587.0 195.3,589.4 195.8,589.7 196.3,585.3 196.8,588.5 197.3,588.9 197.8,589.0 198.3,588.2 198.8,587.3 199.3,587.3 199.8,587.8 200.3,588.8 200.8,590.4 201.3,588.5 201.8,587.1 202.3,587.6 202.8,589.0 203.3,587.9 203.8,589.2 204.3,588.7 204.8,589.9 205.3,588.9 205.8,588.4 206.3,588.8 206.8,587.7 207.3,586.4 207.8,586.9 208.3,588.9 208.8,589.4 209.3,589.3 209.8,589.8 210.3,588.7 210.8,588.2 211.3,588.5 211.8,588.4 212.3,588.5 212.8,588.7 213.3,589.5 213.8,586.7 214.3,587.3 214.8,589.5 215.3,589.7 215.8,589.1 216.3,588.2 216.8,586.9 217.3,587.2 217.8,587.2 218.3,587.2 218.8,587.0 219.3,587.4 219.8,587.7 220.3,588.5 220.8,590.2 221.3,588.4 221.8,586.1 222.3,588.8 222.8,589.0 223.3,587.1 223.8,588.1 224.3,588.9 224.8,586.7 225.3,587.7 225.8,587.5 226.3,589.0 226.8,588.1 227.3,588.2 227.8,587.8 228.3,587.4 228.8,587.5 229.3,588.6 229.8,588.0 230.3,589.8 230.8,588.0 231.3,587.7 231.8,588.6 232.3,589.2 232.8,588.4 233.3,589.8 233.8,588.1 234.3,588.2 234.8,589.6 235.3,588.5 235.8,587.5 236.3,587.5 236.8,587.7 237.3,589.0 237.8,589.2 238.3,589.4 238.8,588.2 239.3,586.2 239.8,587.2 240.3,587.0 240.8,587.4 241.3,590.7 241.8,589.1 242.3,589.4 242.8,587.6 243.3,587.0 243.8,589.6 244.3,588.9 244.8,588.2 245.3,589.4 245.8,589.7 246.3,590.0 246.8,588.3 247.3,590.3 247.8,588.2 248.3,589.1 248.8,588.5 249.3,587.7 249.8,590.3 250.3,590.5 250.8,589.0 251.3,590.5 251.8,590.3 252.3,589.6 252.8,589.1 253.3,590.4 253.8,589.6 254.3,588.5 254.8,587.6 255.3,591.2 255.8,587.4 256.3,587.8 256.8,590.0 257.3,590.5 257.8,588.3 258.3,589.2 258.8,588.5 259.3,587.7 259.8,589.1 260.3,588.6 260.8,588.1 261.3,587.7 261.8,586.7 262.3,586.6 262.8,588.1 263.3,588.5 263.8,585.6 264.3,587.4 264.8,587.7 265.3,589.6 265.8,587.6 266.3,589.3 266.8,588.9 267.3,589.7 267.8,588.8 268.3,588.2 268.8,589.9 269.3,589.1 269.8,588.3 270.3,589.5 270.8,589.6 271.3,589.1 271.8,589.9 272.3,587.6 272.8,589.1 273.3,587.1 273.8,586.9 274.3,589.1 274.8,587.4 275.3,587.8 275.8,588.5 276.3,587.3 276.8,587.0 277.3,585.8 277.8,585.1 278.3,587.2 278.8,586.0 279.3,584.5 279.8,583.2 280.3,586.5 280.8,581.6 281.3,582.1 281.8,578.9 282.3,579.5 282.8,578.0 283.3,574.4 283.8,569.2 284.3,565.5 284.8,561.5 285.3,550.4 285.8,543.5 286.3,532.6 286.8,522.7 287.3,516.4 287.8,514.2 288.3,517.9 288.8,526.0 289.3,535.6 289.8,546.2 290.3,556.5 290.8,562.5 291.3,567.0 291.8,571.2 292.3,575.5 292.8,577.6 293.3,579.3 293.8,580.2 294.3,580.8 294.8,583.9 295.3,584.5 295.8,583.2 296.3,583.5 296.8,584.0 297.3,588.7 297.8,586.7 298.3,590.3 298.8,586.4 299.3,587.1 299.8,587.5 300.3,587.6 300.8,586.2 301.3,587.9 301.8,586.6 302.3,587.4 302.8,587.7 303.3,587.5 303.8,587.9 304.3,589.2 304.8,587.2 305.3,587.1 305.8,588.1 306.3,587.3 306.8,587.4 307.3,589.9 307.8,588.7 308.3,589.2 308.8,589.7 309.3,588.5 309.8,589.8 310.3,589.6 310.8,588.7 311.3,588.9 311.8,588.9 312.3,586.7 312.8,589.6 313.3,588.7 313.8,590.3 314.3,588.6 314.8,587.7 315.3,587.6 315.8,589.6 316.3,589.3 316.8,587.8 317.3,589.1 317.8,588.0 318.3,590.2 318.8,587.6 319.3,587.9 319.8,588.4 320.3,590.0 320.8,589.4 321.3,589.0 321.8,588.9 322.3,589.3 322.8,589.4 323.3,588.8 323.8,587.4 324.3,591.1 324.8,590.5 325.3,590.5 325.8,589.7 326.3,590.7 326.8,588.2 327.3,588.6 327.8,589.4 328.3,589.8 328.8,588.7 329.3,588.7 329.8,588.5 330.3,589.8 330.8,588.2 331.3,590.3 331.8,587.2 332.3,591.8 332.8,589.2 333.3,589.9 333.8,587.7 334.3,590.4 334.8,586.8 335.3,590.5 335.8,586.4 336.3,588.1 336.8,588.8 337.3,588.4 337.8,586.5 338.3,587.9 338.8,591.5 339.3,587.9 339.8,588.7 340.3,590.9 340.8,588.3 341.3,590.3 341.8,588.8 342.3,588.9 342.8,589.6 343.3,588.3 343.8,590.2 344.3,588.8 344.8,589.7 345.3,589.2 345.8,587.0 346.3,588.9 346.8,590.4 347.3,589.5 347.8,590.1 348.3,589.2 348.8,589.1 349.3,589.1 349.8,589.0 350.3,589.7 350.8,588.7 351.3,587.9 351.8,589.6 352.3,589.0 352.8,588.9 353.3,587.6 353.8,587.8 354.3,589.6 354.8,588.8 355.3,590.4 355.8,589.9 356.3,588.7 356.8,588.1 357.3,587.5 357.8,589.1 358.3,590.4 358.8,588.4 359.3,589.1 359.8,588.5 360.3,588.9 360.8,588.3 361.3,588.7 361.8,588.3 362.3,589.8 362.8,588.2 363.3,589.9 363.8,589.3 364.3,587.1 364.8,588.9 365.3,590.6 365.8,587.6 366.3,588.0 366.8,588.0 367.3,588.9 367.8,588.7 368.3,589.5 368.8,590.0 369.3,587.6 369.8,589.8 370.3,590.1 370.8,590.0 371.3,587.6 371.8,588.4 372.3,589.9 372.8,589.5 373.3,589.0 373.8,588.6 374.3,591.4 374.8,588.5 375.3,589.6 375.8,590.2 376.3,589.6 376.8,588.2 377.3,587.2 377.8,588.9 378.3,588.8 378.8,590.3 379.3,588.9 379.8,588.5 380.3,591.1 380.8,590.3 381.3,588.7 381.8,591.5 382.3,590.0 382.8,588.8 383.3,591.1 383.8,589.7 384.3,589.3 384.8,588.2 385.3,590.5 385.8,588.1 386.3,588.9 386.8,588.2 387.3,588.1 387.8,589.1 388.3,588.8 388.8,591.3 389.3,590.8 389.8,590.5 390.3,589.7 390.8,588.3 391.3,591.6 391.8,590.1 392.3,591.1 392.8,591.1 393.3,587.7 393.8,589.1 394.3,587.6 394.8,588.0 395.3,590.5 395.8,591.4 396.3,587.1 396.8,589.8 397.3,590.7 397.8,588.6 398.3,589.2 398.8,590.3 399.3,589.6 399.8,589.1 400.3,589.2 400.8,588.3 401.3,589.4 401.8,589.5 402.3,588.3 402.8,588.6 403.3,587.8 403.8,589.3 404.3,589.2 404.8,590.4 405.3,587.4 405.8,590.5 406.3,588.6 406.8,589.6 407.3,588.2 407.8,587.8 408.3,590.2 408.8,588.5 409.3,590.1 409.8,586.4 410.3,588.0 410.8,589.2 411.3,587.9 411.8,584.8 412.3,583.9 412.8,583.4 413.3,585.0 413.8,583.3 414.3,580.4 414.8,581.9 415.3,580.5 415.8,579.9 416.3,579.0 416.8,575.5 417.3,575.4 417.8,575.3 418.3,575.0 418.8,574.7 419.3,574.9 419.8,577.5 420.3,578.9 420.8,580.6 421.3,579.5 421.8,582.5 422.3,584.8 422.8,584.5 423.3,584.9 423.8,584.7 424.3,584.8 424.8,587.3 425.3,587.9 425.8,587.6 426.3,588.8 426.8,587.9 427.3,587.3 427.8,588.1 428.3,589.9 428.8,589.5 429.3,586.7 429.8,589.2 430.3,587.3 430.8,587.5 431.3,588.8 431.8,589.6 432.3,588.3 432.8,589.6 433.3,588.9 433.8,588.7 434.3,589.6 434.8,589.1 435.3,589.3 435.8,590.6 436.3,589.3 436.8,589.7 437.3,590.9 437.8,589.4 438.3,589.3 438.8,589.6 439.3,591.3 439.8,588.1 440.3,588.2 440.8,588.0 441.3,588.4 441.8,590.3 442.3,588.8 442.8,589.9 443.3,586.6 443.8,589.7 444.3,588.5 444.8,591.0 445.3,590.6 445.8,589.8 446.3,588.2 446.8,588.2 447.3,588.4 447.8,590.7 448.3,587.4 448.8,589.9 449.3,586.9 449.8,586.5 450.3,587.7 450.8,587.4 451.3,590.1 451.8,586.0 452.3,588.5 452.8,587.6 453.3,589.7 453.8,588.9 454.3,590.1 454.8,589.0 455.3,588.6 455.8,588.4 456.3,587.2 456.8,588.1 457.3,588.6 457.8,588.8 458.3,586.6 458.8,589.5 459.3,587.8 459.8,591.3 460.3,590.2 460.8,588.8 461.3,589.4 461.8,586.0 462.3,586.5 462.8,591.1 463.3,590.7 463.8,589.6 464.3,587.5 464.8,588.1 465.3,588.9 465.8,591.1 466.3,590.4 466.8,592.5 467.3,591.1 467.8,588.9 468.3,588.4 468.8,590.9 469.3,589.4 469.8,587.6 470.3,589.2 470.8,589.9 471.3,588.9 471.8,589.0 472.3,589.4 472.8,590.1 473.3,589.9 473.8,589.1 474.3,589.5 474.8,587.3 475.3,587.6 475.8,587.4 476.3,586.2 476.8,586.5 477.3,586.4 477.8,587.4 478.3,587.6 478.8,584.1 479.3,586.5 479.8,585.0 480.3,582.9 480.8,578.0 481.3,572.5 481.8,564.7 482.3,557.9 482.8,550.4 483.3,540.0 483.8,533.3 484.3,532.9 484.8,536.5 485.3,542.5 485.8,550.2 486.3,560.6 486.8,570.0 487.3,575.4 487.8,579.4 488.3,584.5 488.8,583.5 489.3,586.3 489.8,586.0 490.3,586.9 490.8,587.7 491.3,585.8 491.8,588.5 492.3,588.9 492.8,587.9 493.3,587.4 493.8,588.5 494.3,589.9 494.8,588.1 495.3,588.1 495.8,586.6 496.3,589.4 496.8,589.2 497.3,590.0 497.8,591.3 498.3,589.5 498.8,588.8 499.3,590.8 499.8,590.6 500.3,591.2 500.8,588.3 501.3,590.7 501.8,589.3 502.3,590.8 502.8,589.8 503.3,590.5 503.8,592.6 504.3,590.0 504.8,589.4 505.3,592.2 505.8,590.0 506.3,590.2 506.8,590.9 507.3,590.1 507.8,591.9 508.3,589.5 508.8,588.4 509.3,591.0 509.8,589.9 510.3,588.3 510.8,589.5 511.3,590.1 511.8,590.3 512.3,589.1 512.8,589.3 513.3,588.5 513.8,590.7 514.3,587.7 514.8,589.2 515.3,588.2 515.8,589.6 516.3,590.2 516.8,589.5 517.3,589.8 517.8,589.2 518.3,588.0 518.8,587.4 519.3,588.4 519.8,588.8 520.3,588.8 520.8,587.8 521.3,587.3 521.8,588.8 522.3,588.5 522.8,589.4 523.3,588.2 523.8,587.3 524.3,591.6 524.8,588.1 525.3,589.0 525.8,591.2 526.3,588.2 526.8,588.9 527.3,588.4 527.8,590.4 528.3,586.6 528.8,588.8 529.3,589.5 529.8,587.5 530.3,588.5 530.8,588.5 531.3,588.0 531.8,591.7 532.3,587.7 532.8,589.8 533.3,589.2 533.8,588.6 534.3,590.6 534.8,589.8 535.3,589.1 535.8,590.0 536.3,589.4 536.8,591.9 537.3,591.4 537.8,591.4 538.3,589.8 538.8,586.0 539.3,589.9 539.8,590.5 540.3,590.4 540.8,589.2 541.3,589.5 541.8,591.5 542.3,589.0 542.8,590.1 543.3,589.1 543.8,592.3 544.3,592.0 544.8,589.6 545.3,592.2 545.8,589.8 546.3,589.9 546.8,589.9 547.3,589.5 547.8,589.5 548.3,589.2 548.8,589.9 549.3,589.3 549.8,585.9 550.3,588.0 550.8,588.6 551.3,588.6 551.8,589.9 552.3,588.9 552.8,589.2 553.3,587.8 553.8,590.0 554.3,591.5 554.8,589.5 555.3,588.3 555.8,586.3 556.3,587.8 556.8,590.2 557.3,589.5 557.8,590.3 558.3,589.5 558.8,590.2 559.3,591.1 559.8,588.8 560.3,589.1 560.8,589.5 561.3,588.8 561.8,587.0 562.3,589.2 562.8,590.2 563.3,588.9 563.8,591.8 564.3,589.4 564.8,590.9 565.3,590.9 565.8,589.8 566.3,588.2 566.8,591.0 567.3,589.1 567.8,589.8 568.3,591.9 568.8,589.3 569.3,591.3 569.8,592.0 570.3,591.0 570.8,590.8 571.3,589.3 571.8,590.6 572.3,588.3 572.8,589.6 573.3,590.7 573.8,591.0 574.3,589.6 574.8,592.0 575.3,592.2 575.8,590.9 576.3,589.2 576.8,589.5 577.3,589.6 577.8,589.6 578.3,591.6 578.8,589.6 579.3,591.0 579.8,588.1 580.3,589.2 580.8,589.3 581.3,588.8 581.8,588.7 582.3,588.7 582.8,588.5 583.3,589.3 583.8,590.0 584.3,587.9 584.8,586.7 585.3,587.2 585.8,588.5 586.3,587.8 586.8,589.1 587.3,588.3 587.8,589.3 588.3,588.6 588.8,586.4 589.3,587.8 589.8,586.9 590.3,589.5 590.8,589.3 591.3,588.7 591.8,588.0 592.3,588.9 592.8,587.6 593.3,589.5 593.8,587.3 594.3,587.8 594.8,590.1 595.3,588.2 595.8,589.1 596.3,587.7 596.8,589.5 597.3,588.8 597.8,588.5 598.3,592.1 598.8,591.4 599.3,589.2 599.8,589.5 600.3,588.1 600.8,589.1 601.3,590.7 601.8,588.6 602.3,589.6 602.8,589.1 603.3,589.3 603.8,588.3 604.3,590.4 604.8,590.2 605.3,591.1 605.8,586.1 606.3,589.6 606.8,589.9 607.3,590.3 607.8,589.7 608.3,589.5 608.8,588.2 609.3,588.8 609.8,588.6 610.3,589.7 610.8,589.0 611.3,587.6 611.8,588.9 612.3,588.5 612.8,591.2 613.3,588.8 613.8,589.0 614.3,588.0 614.8,592.4 615.3,589.4 615.8,589.4 616.3,589.3 616.8,590.2 617.3,589.3 617.8,588.9 618.3,589.7 618.8,590.0 619.3,589.8 619.8,590.0 620.3,589.8 620.8,590.8 621.3,592.2 621.8,588.2 622.3,591.5 622.8,589.6 623.3,591.1 623.8,590.3 624.3,591.0 624.8,590.0 625.3,591.0 625.8,591.6 626.3,589.8 626.8,588.7 627.3,589.9 627.8,590.1 628.3,591.3 628.8,590.0 629.3,589.2 629.8,590.5 630.3,588.8 630.8,589.7 631.3,589.4 631.8,590.5 632.3,590.4 632.8,589.5 633.3,589.3 633.8,589.3 634.3,591.0 634.8,590.7 635.3,589.7 635.8,591.6 636.3,588.4 636.8,589.1 637.3,589.5 637.8,590.5 638.3,588.4 638.8,589.4 639.3,586.8 639.8,588.4 640.3,590.4 640.8,588.0 641.3,589.2 641.8,589.1 642.3,588.7 642.8,588.7 643.3,588.2 643.8,588.0 644.3,588.4 644.8,589.7 645.3,590.5 645.8,590.1 646.3,588.5 646.8,587.7 647.3,586.9 647.8,590.4 648.3,589.1 648.8,589.6 649.3,589.8 649.8,589.3 650.3,589.8 650.8,589.9 651.3,590.3 651.8,589.1 652.3,588.3 652.8,587.7 653.3,590.3 653.8,591.0 654.3,590.2 654.8,590.8 655.3,588.9 655.8,591.0 656.3,589.9 656.8,591.5 657.3,590.4 657.8,589.7 658.3,588.3 658.8,590.5 659.3,589.3 659.8,592.0 660.3,591.0 660.8,590.5 661.3,590.3 661.8,589.2 662.3,588.9 662.8,591.3 663.3,588.8 663.8,590.5 664.3,587.1 664.8,588.6 665.3,588.8 665.8,589.2 666.3,589.1 666.8,589.1 667.3,590.0 667.8,588.3 668.3,588.7 668.8,588.2 669.3,589.1 669.8,588.2 670.3,589.8 670.8,584.8 671.3,589.6 671.8,589.5 672.3,588.0 672.8,587.5 673.3,589.7 673.8,590.8 674.3,590.7 674.8,590.4 675.3,590.2 675.8,589.5 676.3,588.2 676.8,588.1 677.3,589.8 677.8,588.6 678.3,588.1 678.8,587.3 679.3,588.9 679.8,589.6 680.3,588.0 680.8,587.2 681.3,589.4 681.8,586.7 682.3,586.8 682.8,588.9 683.3,590.3 683.8,589.2 684.3,588.8 684.8,588.0 685.3,590.5 685.8,586.0 686.3,585.9 686.8,589.2 687.3,590.4 687.8,588.6 688.3,587.7 688.8,586.6 689.3,587.1 689.8,588.0 690.3,590.0 690.8,587.1 691.3,586.7 691.8,588.2 692.3,587.6 692.8,587.6 693.3,588.2 693.8,589.3 694.3,587.7 694.8,589.7 695.3,586.5 695.8,589.0 696.3,587.6 696.8,588.9 697.3,587.8 697.8,588.6 698.3,587.9 698.8,589.4 699.3,590.6 699.8,589.0 700.3,588.9 700.8,590.2 701.3,589.4 701.8,590.4 702.3,588.6 702.8,589.0 703.3,588.7 703.8,585.8 704.3,588.6 704.8,588.5 705.3,588.2 705.8,589.3 706.3,589.7 706.8,587.7 707.3,587.4 707.8,591.9 708.3,588.9 708.8,589.0 709.3,589.2 709.8,587.0 710.3,589.0 710.8,587.3 711.3,588.7 711.8,588.6 712.3,587.1 712.8,588.3 713.3,587.8 713.8,588.5 714.3,587.9 714.8,585.8 715.3,585.6 715.8,587.1 716.3,586.7 716.8,581.9 717.3,584.2 717.8,582.7 718.3,577.9 718.8,574.0 719.3,564.6 719.8,549.5 720.3,530.3 720.8,508.2 721.3,481.3 721.8,460.7 722.3,448.1 722.8,449.3 723.3,464.8 723.8,487.2 724.3,512.5 724.8,536.4 725.3,553.3 725.8,566.7 726.3,575.1 726.8,579.5 727.3,581.2 727.8,583.7 728.3,583.6 728.8,583.9 729.3,586.2 729.8,587.4 730.3,587.9 730.8,587.0 731.3,586.5 731.8,586.0 732.3,589.3 732.8,587.1 733.3,586.9 733.8,585.2 734.3,587.7 734.8,588.0 735.3,589.7 735.8,588.8 736.3,589.1 736.8,589.0 737.3,588.9 737.8,589.7 738.3,588.4 738.8,587.9 739.3,587.6 739.8,588.5 740.3,587.3 740.8,587.4 741.3,590.3 741.8,589.1 742.3,589.9 742.8,589.7 743.3,588.3 743.8,588.9 744.3,587.2 744.8,586.4 745.3,588.2 745.8,589.1 746.3,589.0 746.8,588.8 747.3,588.2 747.8,589.7 748.3,588.3 748.8,589.4 749.3,588.0 749.8,587.8 750.3,587.3 750.8,589.5 751.3,590.9 751.8,591.4 752.3,589.8 752.8,591.0 753.3,591.3 753.8,589.8 754.3,590.5 754.8,588.8 755.3,587.3 755.8,589.6 756.3,589.1 756.8,591.3 757.3,589.5 757.8,590.4 758.3,590.8 758.8,591.5 759.3,587.9 759.8,591.6 760.3,591.2 760.8,589.5 761.3,589.1 761.8,589.1 762.3,589.5 762.8,590.6 763.3,588.6 763.8,589.2 764.3,591.1 764.8,587.5 765.3,589.6 765.8,588.5 766.3,591.2 766.8,590.8 767.3,590.1 767.8,590.3 768.3,588.4 768.8,591.2 769.3,589.3 769.8,590.6 770.3,588.9 770.8,589.1 771.3,589.9 771.8,586.8 772.3,589.0 772.8,587.8 773.3,590.6 773.8,589.4 774.3,589.0 774.8,588.9 775.3,589.5 775.8,590.0 776.3,592.6 776.8,589.8 777.3,590.0 777.8,589.2 778.3,588.2 778.8,586.5 779.3,588.2 779.8,587.7 780.3,588.1 780.8,587.9 781.3,588.0 781.8,589.1 782.3,589.3 782.8,588.4 783.3,586.8 783.8,588.0 784.3,587.0 784.8,590.0 785.3,588.3 785.8,588.3 786.3,588.2 786.8,590.3 787.3,591.2 787.8,591.6 788.3,589.5 788.8,586.3 789.3,588.4 789.8,590.1 790.3,588.3 790.8,589.0 791.3,588.5 791.8,589.3 792.3,590.1 792.8,589.2 793.3,587.8 793.8,588.2 794.3,587.3 794.8,590.0 795.3,587.7 795.8,588.7 796.3,588.7 796.8,587.4 797.3,588.8 797.8,588.6 798.3,588.1 798.8,587.9 799.3,587.9 799.8,587.3 800.3,588.2 800.8,589.3 801.3,586.0 801.8,588.7 802.3,588.2 802.8,589.6 803.3,591.4 803.8,589.9 804.3,588.9 804.8,588.3 805.3,588.9 805.8,588.3 806.3,588.2 806.8,588.1 807.3,589.4 807.8,589.4 808.3,589.8 808.8,590.6 809.3,588.0 809.8,590.9 810.3,589.7 810.8,589.3 811.3,591.8 811.8,588.6 812.3,589.7 812.8,588.8 813.3,589.4 813.8,590.9 814.3,589.0 814.8,589.1 815.3,588.0 815.8,588.6 816.3,591.0 816.8,587.7 817.3,587.9 817.8,587.7 818.3,587.7 818.8,589.0 819.3,587.6 819.8,588.5 820.3,584.8 820.8,587.8 821.3,588.7 821.8,587.7 822.3,585.6 822.8,587.5 823.3,589.4 823.8,585.0 824.3,585.9 824.8,586.7 825.3,585.2 825.8,586.7 826.3,586.8 826.8,584.1 827.3,585.6 827.8,584.2 828.3,584.2 828.8,582.4 829.3,582.0 829.8,582.4 830.3,576.9 830.8,574.8 831.3,570.5 831.8,570.3 832.3,569.7 832.8,574.3 833.3,579.2 833.8,579.8 834.3,580.8 834.8,582.9 835.3,583.9 835.8,582.3 836.3,584.5 836.8,583.7 837.3,585.1 837.8,587.4 838.3,587.2 838.8,586.7 839.3,586.1 839.8,587.5 840.3,588.3 840.8,588.1 841.3,587.6 841.8,588.1 842.3,588.1 842.8,585.5 843.3,587.3 843.8,588.8 844.3,587.9 844.8,586.1 845.3,587.2 845.8,588.3 846.3,590.0 846.8,590.6 847.3,589.3 847.8,589.1 848.3,591.1 848.8,591.0 849.3,589.6 849.8,592.0 850.3,591.5 850.8,589.8 851.3,589.2 851.8,589.3 852.3,588.4 852.8,587.8 853.3,588.4 853.8,589.9 854.3,587.3 854.8,587.7 855.3,588.6 855.8,590.5 856.3,589.3 856.8,592.2 857.3,590.2 857.8,592.4 858.3,590.3 858.8,588.5 859.3,589.7 859.8,588.0 860.3,589.8"/>
<polyline class="tr" points="76.8,714.0 77.3,710.4 77.8,716.5 78.3,712.3 78.8,714.6 79.3,713.2 79.8,713.6 80.3,714.0 80.8,714.9 81.3,714.4 81.8,713.0 82.3,713.4 82.8,717.3 83.3,713.5 83.8,711.5 84.3,712.4 84.8,713.7 85.3,718.0 85.8,713.2 86.3,713.0 86.8,711.5 87.3,716.3 87.8,714.9 88.3,715.5 88.8,714.9 89.3,717.9 89.8,715.4 90.3,715.1 90.8,714.9 91.3,710.5 91.8,715.0 92.3,714.7 92.8,711.5 93.3,715.0 93.8,711.3 94.3,712.8 94.8,715.0 95.3,715.1 95.8,713.3 96.3,714.0 96.8,713.4 97.3,714.8 97.8,712.4 98.3,715.0 98.8,714.7 99.3,714.0 99.8,716.2 100.3,714.6 100.8,714.2 101.3,716.7 101.8,717.5 102.3,711.4 102.8,714.4 103.3,714.3 103.8,715.3 104.3,710.6 104.8,714.3 105.3,718.0 105.8,713.6 106.3,716.5 106.8,713.5 107.3,714.7 107.8,711.9 108.3,713.3 108.8,715.1 109.3,711.2 109.8,708.3 110.3,715.0 110.8,711.8 111.3,713.3 111.8,713.3 112.3,716.8 112.8,716.2 113.3,711.2 113.8,713.5 114.3,715.1 114.8,710.2 115.3,711.2 115.8,712.2 116.3,715.9 116.8,713.8 117.3,710.5 117.8,717.9 118.3,715.7 118.8,714.7 119.3,712.7 119.8,713.2 120.3,712.8 120.8,713.0 121.3,713.1 121.8,712.0 122.3,709.1 122.8,712.3 123.3,711.7 123.8,713.5 124.3,711.3 124.8,713.0 125.3,713.0 125.8,713.6 126.3,713.8 126.8,713.3 127.3,713.5 127.8,713.8 128.3,710.1 128.8,711.3 129.3,710.0 129.8,709.6 130.3,710.3 130.8,706.4 131.3,703.5 131.8,697.9 132.3,689.9 132.8,680.9 133.3,671.8 133.8,663.5 134.3,659.2 134.8,659.6 135.3,663.6 135.8,671.2 136.3,681.5 136.8,691.5 137.3,697.9 137.8,702.5 138.3,705.9 138.8,707.9 139.3,709.4 139.8,711.0 140.3,712.2 140.8,714.0 141.3,711.4 141.8,712.1 142.3,713.9 142.8,713.1 143.3,713.7 143.8,713.8 144.3,711.5 144.8,713.8 145.3,710.6 145.8,713.5 146.3,714.4 146.8,713.6 147.3,711.0 147.8,713.6 148.3,713.0 148.8,716.1 149.3,713.0 149.8,715.1 150.3,713.9 150.8,712.1 151.3,713.9 151.8,712.9 152.3,713.8 152.8,713.8 153.3,712.9 153.8,712.2 154.3,713.2 154.8,713.5 155.3,714.5 155.8,715.4 156.3,713.5 156.8,713.7 157.3,713.1 157.8,712.1 158.3,712.3 158.8,714.1 159.3,712.8 159.8,712.6 160.3,713.1 160.8,715.0 161.3,713.1 161.8,711.9 162.3,710.4 162.8,710.3 163.3,709.5 163.8,703.6 164.3,701.5 164.8,697.5 165.3,691.7 165.8,686.7 166.3,683.8 166.8,683.0 167.3,684.4 167.8,686.7 168.3,692.6 168.8,697.0 169.3,704.1 169.8,706.1 170.3,708.6 170.8,710.6 171.3,713.5 171.8,712.7 172.3,710.9 172.8,712.5 173.3,713.8 173.8,714.1 174.3,715.0 174.8,713.5 175.3,714.7 175.8,714.3 176.3,712.7 176.8,712.7 177.3,713.0 177.8,715.7 178.3,714.5 178.8,712.7 179.3,715.5 179.8,713.0 180.3,714.2 180.8,713.1 181.3,714.6 181.8,715.7 182.3,715.6 182.8,712.7 183.3,714.7 183.8,715.6 184.3,713.5 184.8,716.1 185.3,714.8 185.8,714.0 186.3,713.8 186.8,713.6 187.3,714.3 187.8,717.0 188.3,714.1 188.8,714.4 189.3,714.5 189.8,713.5 190.3,713.2 190.8,713.9 191.3,712.5 191.8,711.7 192.3,713.7 192.8,714.4 193.3,715.5 193.8,713.4 194.3,715.9 194.8,712.1 195.3,712.6 195.8,714.2 196.3,712.9 196.8,714.4 197.3,714.7 197.8,712.8 198.3,714.7 198.8,713.6 199.3,713.8 199.8,711.9 200.3,713.1 200.8,711.9 201.3,713.0 201.8,715.0 202.3,715.4 202.8,716.5 203.3,713.9 203.8,716.9 204.3,714.9 204.8,716.7 205.3,714.9 205.8,713.3 206.3,715.2 206.8,714.7 207.3,715.0 207.8,714.1 208.3,716.1 208.8,714.4 209.3,714.5 209.8,715.4 210.3,715.6 210.8,713.4 211.3,713.9 211.8,714.4 212.3,715.9 212.8,715.1 213.3,716.0 213.8,716.3 214.3,715.1 214.8,715.1 215.3,715.9 215.8,715.9 216.3,713.8 216.8,714.7 217.3,715.9 217.8,711.9 218.3,716.0 218.8,714.0 219.3,715.3 219.8,713.6 220.3,714.0 220.8,713.0 221.3,713.8 221.8,714.5 222.3,711.8 222.8,713.6 223.3,713.9 223.8,713.8 224.3,714.6 224.8,713.5 225.3,711.7 225.8,711.7 226.3,713.2 226.8,712.7 227.3,712.4 227.8,714.2 228.3,712.0 228.8,713.2 229.3,715.5 229.8,712.9 230.3,714.6 230.8,713.3 231.3,713.0 231.8,713.8 232.3,713.4 232.8,712.1 233.3,715.2 233.8,716.1 234.3,714.0 234.8,714.0 235.3,711.5 235.8,712.8 236.3,713.6 236.8,714.3 237.3,716.3 237.8,715.6 238.3,714.4 238.8,713.9 239.3,714.5 239.8,713.8 240.3,713.4 240.8,714.8 241.3,714.3 241.8,714.9 242.3,712.7 242.8,716.2 243.3,713.3 243.8,713.1 244.3,716.4 244.8,714.7 245.3,712.8 245.8,714.9 246.3,714.6 246.8,714.0 247.3,712.3 247.8,713.2 248.3,714.7 248.8,715.3 249.3,715.4 249.8,713.2 250.3,715.9 250.8,714.2 251.3,712.8 251.8,714.9 252.3,713.8 252.8,713.6 253.3,712.6 253.8,714.8 254.3,713.1 254.8,713.2 255.3,713.0 255.8,715.0 256.3,712.6 256.8,714.4 257.3,713.4 257.8,714.2 258.3,711.1 258.8,713.1 259.3,710.8 259.8,713.8 260.3,713.6 260.8,711.6 261.3,713.6 261.8,712.8 262.3,712.0 262.8,713.4 263.3,713.6 263.8,713.1 264.3,711.6 264.8,712.4 265.3,711.3 265.8,713.0 266.3,713.3 266.8,714.0 267.3,713.1 267.8,713.4 268.3,712.8 268.8,713.8 269.3,713.7 269.8,713.4 270.3,711.7 270.8,712.8 271.3,713.1 271.8,710.9 272.3,710.5 272.8,712.3 273.3,712.1 273.8,713.6 274.3,713.0 274.8,710.9 275.3,708.9 275.8,708.0 276.3,708.6 276.8,709.3 277.3,707.4 277.8,708.8 278.3,706.1 278.8,705.9 279.3,702.8 279.8,698.5 280.3,694.4 280.8,692.5 281.3,687.4 281.8,683.6 282.3,675.7 282.8,665.6 283.3,658.2 283.8,651.1 284.3,646.4 284.8,642.9 285.3,646.8 285.8,651.9 286.3,655.6 286.8,667.6 287.3,673.7 287.8,681.1 288.3,684.9 288.8,691.6 289.3,695.7 289.8,698.9 290.3,700.1 290.8,704.0 291.3,706.2 291.8,705.9 292.3,707.2 292.8,707.1 293.3,708.8 293.8,709.5 294.3,708.8 294.8,708.9 295.3,708.6 295.8,709.7 296.3,711.9 296.8,710.4 297.3,710.6 297.8,710.8 298.3,710.1 298.8,711.3 299.3,709.9 299.8,711.6 300.3,710.2 300.8,713.1 301.3,714.8 301.8,713.4 302.3,709.3 302.8,713.0 303.3,713.0 303.8,712.7 304.3,713.6 304.8,712.9 305.3,713.1 305.8,711.0 306.3,711.9 306.8,713.2 307.3,712.7 307.8,712.7 308.3,714.7 308.8,712.4 309.3,714.2 309.8,712.8 310.3,713.5 310.8,712.9 311.3,712.4 311.8,713.4 312.3,714.6 312.8,714.7 313.3,713.9 313.8,715.0 314.3,715.1 314.8,714.8 315.3,714.8 315.8,713.8 316.3,714.7 316.8,713.9 317.3,714.7 317.8,715.7 318.3,713.0 318.8,712.9 319.3,714.5 319.8,713.2 320.3,713.8 320.8,715.4 321.3,712.8 321.8,716.2 322.3,714.2 322.8,713.3 323.3,715.2 323.8,712.2 324.3,714.8 324.8,713.0 325.3,714.6 325.8,713.7 326.3,714.5 326.8,711.7 327.3,713.9 327.8,712.9 328.3,713.4 328.8,713.9 329.3,714.5 329.8,713.8 330.3,713.3 330.8,713.4 331.3,713.9 331.8,714.8 332.3,713.9 332.8,715.8 333.3,714.8 333.8,717.0 334.3,715.5 334.8,714.8 335.3,716.1 335.8,715.9 336.3,713.4 336.8,714.0 337.3,713.2 337.8,713.1 338.3,713.6 338.8,713.5 339.3,713.9 339.8,712.6 340.3,715.5 340.8,714.1 341.3,712.8 341.8,713.1 342.3,713.8 342.8,714.4 343.3,713.1 343.8,714.2 344.3,715.2 344.8,712.5 345.3,714.2 345.8,713.6 346.3,715.6 346.8,716.9 347.3,713.7 347.8,712.3 348.3,716.6 348.8,715.0 349.3,713.7 349.8,714.1 350.3,714.4 350.8,714.6 351.3,715.8 351.8,713.4 352.3,713.5 352.8,714.1 353.3,717.2 353.8,712.8 354.3,714.7 354.8,714.1 355.3,712.6 355.8,713.2 356.3,714.6 356.8,713.4 357.3,714.0 357.8,715.4 358.3,714.6 358.8,716.7 359.3,716.4 359.8,714.6 360.3,713.2 360.8,715.8 361.3,713.5 361.8,714.5 362.3,712.6 362.8,715.0 363.3,711.4 363.8,713.8 364.3,714.8 364.8,714.2 365.3,716.6 365.8,714.2 366.3,715.0 366.8,714.0 367.3,715.0 367.8,717.7 368.3,717.7 368.8,715.5 369.3,716.2 369.8,713.9 370.3,715.9 370.8,714.3 371.3,715.0 371.8,713.1 372.3,714.7 372.8,714.6 373.3,715.8 373.8,714.3 374.3,714.0 374.8,714.9 375.3,713.9 375.8,715.7 376.3,714.9 376.8,714.2 377.3,715.0 377.8,713.2 378.3,713.9 378.8,715.4 379.3,715.8 379.8,714.8 380.3,715.4 380.8,715.0 381.3,715.8 381.8,713.7 382.3,714.3 382.8,714.1 383.3,713.4 383.8,717.0 384.3,714.4 384.8,714.8 385.3,713.7 385.8,713.7 386.3,713.7 386.8,712.8 387.3,716.4 387.8,715.6 388.3,712.9 388.8,712.7 389.3,715.2 389.8,712.8 390.3,713.1 390.8,715.8 391.3,714.8 391.8,713.5 392.3,713.7 392.8,711.6 393.3,712.8 393.8,712.3 394.3,713.9 394.8,714.5 395.3,713.8 395.8,711.5 396.3,710.9 396.8,714.0 397.3,713.5 397.8,716.3 398.3,712.1 398.8,714.8 399.3,712.5 399.8,711.9 400.3,715.0 400.8,714.7 401.3,712.8 401.8,712.2 402.3,714.4 402.8,714.9 403.3,713.3 403.8,712.2 404.3,714.9 404.8,714.6 405.3,712.4 405.8,713.4 406.3,714.5 406.8,713.5 407.3,712.8 407.8,712.1 408.3,712.6 408.8,712.9 409.3,714.7 409.8,711.9 410.3,711.3 410.8,711.0 411.3,710.4 411.8,709.5 412.3,707.6 412.8,708.0 413.3,708.0 413.8,704.6 414.3,704.6 414.8,703.7 415.3,701.7 415.8,701.8 416.3,701.3 416.8,702.0 417.3,699.3 417.8,702.5 418.3,700.3 418.8,703.7 419.3,704.0 419.8,704.7 420.3,704.1 420.8,705.7 421.3,707.3 421.8,709.3 422.3,707.7 422.8,709.4 423.3,709.7 423.8,710.9 424.3,711.8 424.8,710.9 425.3,711.7 425.8,711.1 426.3,712.4 426.8,714.3 427.3,712.0 427.8,712.8 428.3,713.3 428.8,716.7 429.3,714.5 429.8,713.2 430.3,714.2 430.8,713.2 431.3,712.7 431.8,713.4 432.3,714.5 432.8,713.0 433.3,713.1 433.8,714.1 434.3,715.9 434.8,715.2 435.3,713.0 435.8,714.2 436.3,716.2 436.8,714.3 437.3,714.0 437.8,713.4 438.3,713.7 438.8,713.7 439.3,714.9 439.8,715.9 440.3,714.8 440.8,712.6 441.3,715.6 441.8,713.1 442.3,715.7 442.8,715.7 443.3,714.0 443.8,715.0 444.3,714.4 444.8,715.4 445.3,713.8 445.8,712.9 446.3,715.5 446.8,713.6 447.3,713.7 447.8,713.4 448.3,716.8 448.8,713.4 449.3,715.7 449.8,714.8 450.3,715.1 450.8,715.8 451.3,715.7 451.8,715.6 452.3,714.6 452.8,713.9 453.3,715.1 453.8,714.1 454.3,714.7 454.8,713.7 455.3,716.3 455.8,714.8 456.3,714.9 456.8,714.7 457.3,714.4 457.8,713.8 458.3,714.5 458.8,713.9 459.3,714.8 459.8,714.8 460.3,715.5 460.8,713.6 461.3,713.8 461.8,713.0 462.3,715.0 462.8,714.3 463.3,711.3 463.8,712.5 464.3,715.2 464.8,712.6 465.3,712.7 465.8,713.1 466.3,712.6 466.8,712.7 467.3,712.1 467.8,711.9 468.3,711.9 468.8,710.5 469.3,710.4 469.8,708.2 470.3,707.4 470.8,708.2 471.3,708.2 471.8,707.0 472.3,708.3 472.8,706.3 473.3,712.1 473.8,712.5 474.3,711.7 474.8,710.5 475.3,710.6 475.8,712.2 476.3,712.3 476.8,713.0 477.3,712.4 477.8,711.1 478.3,716.2 478.8,711.5 479.3,712.7 479.8,714.4 480.3,713.7 480.8,714.6 481.3,714.3 481.8,714.4 482.3,713.9 482.8,715.9 483.3,714.0 483.8,715.1 484.3,714.7 484.8,713.4 485.3,714.6 485.8,713.9 486.3,713.9 486.8,714.0 487.3,715.4 487.8,713.4 488.3,713.5 488.8,711.2 489.3,714.7 489.8,712.7 490.3,714.4 490.8,714.5 491.3,712.2 491.8,714.4 492.3,713.5 492.8,714.3 493.3,715.2 493.8,714.6 494.3,714.9 494.8,714.7 495.3,712.2 495.8,713.3 496.3,715.3 496.8,711.0 497.3,712.0 497.8,710.6 498.3,709.1 498.8,711.3 499.3,710.3 499.8,711.3 500.3,712.5 500.8,713.2 501.3,713.2 501.8,712.5 502.3,712.9 502.8,713.5 503.3,712.5 503.8,716.5 504.3,714.0 504.8,713.5 505.3,713.4 505.8,712.3 506.3,713.6 506.8,712.2 507.3,714.0 507.8,712.8 508.3,713.4 508.8,713.8 509.3,712.9 509.8,712.7 510.3,714.4 510.8,712.4 511.3,713.7 511.8,713.3 512.3,716.4 512.8,713.4 513.3,715.2 513.8,712.1 514.3,713.9 514.8,713.5 515.3,713.3 515.8,714.7 516.3,713.1 516.8,714.4 517.3,713.4 517.8,712.3 518.3,711.8 518.8,711.7 519.3,713.6 519.8,714.6 520.3,713.2 520.8,711.8 521.3,714.5 521.8,712.3 522.3,713.9 522.8,717.1 523.3,714.2 523.8,712.1 524.3,713.5 524.8,713.1 525.3,713.7 525.8,716.3 526.3,717.2 526.8,715.9 527.3,715.0 527.8,715.8 528.3,715.6 528.8,713.9 529.3,713.0 529.8,716.6 530.3,715.7 530.8,714.5 531.3,714.8 531.8,717.4 532.3,711.5 532.8,713.9 533.3,714.4 533.8,716.9 534.3,714.6 534.8,716.1 535.3,714.0 535.8,714.4 536.3,714.8 536.8,714.2 537.3,715.3 537.8,714.3 538.3,717.2 538.8,713.6 539.3,714.5 539.8,711.6 540.3,714.2 540.8,716.9 541.3,712.5 541.8,714.8 542.3,715.4 542.8,714.3 543.3,712.6 543.8,711.9 544.3,714.7 544.8,713.9 545.3,714.1 545.8,715.1 546.3,714.9 546.8,714.3 547.3,714.2 547.8,712.8 548.3,716.2 548.8,713.6 549.3,713.4 549.8,712.3 550.3,714.2 550.8,714.2 551.3,713.6 551.8,714.3 552.3,714.4 552.8,714.6 553.3,714.5 553.8,715.1 554.3,714.7 554.8,714.7 555.3,714.8 555.8,715.5 556.3,713.1 556.8,713.8 557.3,714.2 557.8,715.3 558.3,713.6 558.8,714.3 559.3,714.1 559.8,713.9 560.3,714.0 560.8,712.7 561.3,714.6 561.8,714.7 562.3,713.8 562.8,714.3 563.3,713.3 563.8,713.0 564.3,712.4 564.8,713.0 565.3,714.4 565.8,714.2 566.3,714.4 566.8,712.7 567.3,714.1 567.8,714.7 568.3,715.0 568.8,713.0 569.3,714.6 569.8,716.7 570.3,712.8 570.8,713.1 571.3,712.5 571.8,712.3 572.3,712.8 572.8,712.9 573.3,713.2 573.8,714.2 574.3,715.7 574.8,715.7 575.3,713.1 575.8,712.7 576.3,713.5 576.8,714.4 577.3,712.9 577.8,713.6 578.3,713.6 578.8,714.0 579.3,715.0 579.8,714.7 580.3,713.2 580.8,711.9 581.3,711.8 581.8,714.0 582.3,713.4 582.8,714.1 583.3,713.9 583.8,713.7 584.3,713.4 584.8,715.8 585.3,712.8 585.8,714.7 586.3,715.8 586.8,712.2 587.3,715.8 587.8,714.8 588.3,715.5 588.8,713.6 589.3,717.9 589.8,714.6 590.3,716.6 590.8,713.1 591.3,712.4 591.8,713.7 592.3,715.5 592.8,713.4 593.3,712.2 593.8,714.4 594.3,715.1 594.8,713.1 595.3,716.2 595.8,715.1 596.3,714.8 596.8,714.6 597.3,713.3 597.8,714.6 598.3,715.6 598.8,715.6 599.3,714.1 599.8,713.4 600.3,712.9 600.8,713.6 601.3,715.7 601.8,713.7 602.3,715.1 602.8,713.0 603.3,714.8 603.8,714.5 604.3,715.0 604.8,713.1 605.3,714.7 605.8,711.5 606.3,713.1 606.8,715.9 607.3,714.7 607.8,713.4 608.3,713.5 608.8,713.7 609.3,713.9 609.8,715.9 610.3,716.0 610.8,713.4 611.3,715.0 611.8,714.2 612.3,713.6 612.8,716.4 613.3,716.6 613.8,714.1 614.3,715.3 614.8,714.9 615.3,713.1 615.8,714.3 616.3,714.0 616.8,713.6 617.3,715.4 617.8,711.5 618.3,712.8 618.8,714.0 619.3,712.0 619.8,714.4 620.3,714.1 620.8,714.8 621.3,713.7 621.8,714.4 622.3,713.4 622.8,714.5 623.3,713.6 623.8,713.4 624.3,713.6 624.8,713.6 625.3,713.9 625.8,714.9 626.3,716.1 626.8,713.6 627.3,715.6 627.8,713.8 628.3,714.2 628.8,714.2 629.3,714.1 629.8,713.5 630.3,715.3 630.8,714.1 631.3,713.3 631.8,713.3 632.3,713.0 632.8,714.8 633.3,714.6 633.8,712.4 634.3,714.0 634.8,714.3 635.3,713.5 635.8,715.7 636.3,714.8 636.8,714.0 637.3,714.6 637.8,712.8 638.3,713.9 638.8,713.5 639.3,715.3 639.8,714.6 640.3,714.5 640.8,713.8 641.3,713.7 641.8,714.2 642.3,713.6 642.8,711.7 643.3,713.8 643.8,714.7 644.3,712.8 644.8,712.7 645.3,714.0 645.8,713.1 646.3,716.3 646.8,714.0 647.3,714.9 647.8,712.2 648.3,714.5 648.8,712.7 649.3,715.0 649.8,715.0 650.3,715.3 650.8,715.9 651.3,715.2 651.8,713.3 652.3,716.2 652.8,714.3 653.3,713.1 653.8,714.0 654.3,713.7 654.8,713.8 655.3,713.6 655.8,716.2 656.3,712.4 656.8,713.8 657.3,715.0 657.8,714.8 658.3,714.9 658.8,714.2 659.3,716.3 659.8,716.3 660.3,716.5 660.8,714.0 661.3,715.9 661.8,714.7 662.3,715.9 662.8,714.8 663.3,715.1 663.8,715.4 664.3,713.3 664.8,714.7 665.3,715.8 665.8,712.1 666.3,715.6 666.8,715.8 667.3,716.2 667.8,712.6 668.3,714.0 668.8,714.0 669.3,713.2 669.8,714.3 670.3,713.6 670.8,712.7 671.3,714.4 671.8,713.7 672.3,714.1 672.8,714.1 673.3,712.5 673.8,713.2 674.3,713.6 674.8,715.8 675.3,714.7 675.8,714.5 676.3,713.9 676.8,713.5 677.3,713.5 677.8,713.9 678.3,713.3 678.8,713.3 679.3,712.6 679.8,715.2 680.3,712.2 680.8,711.1 681.3,712.0 681.8,713.9 682.3,714.6 682.8,713.8 683.3,712.2 683.8,713.2 684.3,715.8 684.8,717.3 685.3,713.5 685.8,710.9 686.3,715.1 686.8,713.9 687.3,713.2 687.8,712.9 688.3,712.1 688.8,714.9 689.3,712.9 689.8,713.8 690.3,712.3 690.8,712.9 691.3,712.1 691.8,714.6 692.3,714.6 692.8,714.3 693.3,714.1 693.8,714.3 694.3,715.0 694.8,714.2 695.3,715.4 695.8,712.7 696.3,714.3 696.8,715.4 697.3,713.7 697.8,715.5 698.3,713.5 698.8,714.2 699.3,712.0 699.8,713.3 700.3,715.0 700.8,713.3 701.3,714.3 701.8,713.8 702.3,718.1 702.8,715.3 703.3,715.3 703.8,713.3 704.3,716.0 704.8,714.5 705.3,715.0 705.8,716.3 706.3,715.4 706.8,714.2 707.3,714.9 707.8,714.8 708.3,714.7 708.8,714.5 709.3,714.3 709.8,714.9 710.3,716.4 710.8,714.9 711.3,714.5 711.8,712.7 712.3,715.8 712.8,713.1 713.3,715.3 713.8,713.1 714.3,717.2 714.8,715.2 715.3,717.4 715.8,716.4 716.3,715.1 716.8,714.2 717.3,715.5 717.8,714.3 718.3,715.5 718.8,712.8 719.3,715.2 719.8,712.3 720.3,712.4 720.8,715.4 721.3,713.9 721.8,714.9 722.3,712.7 722.8,714.1 723.3,712.6 723.8,714.8 724.3,714.8 724.8,715.3 725.3,714.2 725.8,713.8 726.3,714.3 726.8,713.9 727.3,713.3 727.8,714.2 728.3,715.0 728.8,715.4 729.3,714.8 729.8,714.4 730.3,713.0 730.8,713.0 731.3,714.9 731.8,713.4 732.3,715.1 732.8,713.2 733.3,715.9 733.8,713.0 734.3,714.1 734.8,713.7 735.3,714.1 735.8,715.2 736.3,713.8 736.8,713.8 737.3,713.1 737.8,712.9 738.3,712.2 738.8,712.8 739.3,714.6 739.8,712.5 740.3,714.5 740.8,713.9 741.3,712.8 741.8,713.6 742.3,712.7 742.8,710.6 743.3,711.8 743.8,711.6 744.3,711.5 744.8,706.0 745.3,708.4 745.8,706.7 746.3,705.3 746.8,702.8 747.3,703.6 747.8,703.0 748.3,702.0 748.8,702.5 749.3,704.0 749.8,705.3 750.3,704.2 750.8,705.9 751.3,705.2 751.8,708.4 752.3,709.3 752.8,708.5 753.3,712.5 753.8,710.4 754.3,712.7 754.8,713.3 755.3,712.0 755.8,712.5 756.3,713.9 756.8,712.6 757.3,711.4 757.8,712.1 758.3,713.0 758.8,713.5 759.3,712.9 759.8,712.2 760.3,713.0 760.8,712.3 761.3,711.8 761.8,714.7 762.3,713.0 762.8,712.8 763.3,713.7 763.8,714.3 764.3,711.9 764.8,713.7 765.3,713.9 765.8,714.7 766.3,714.4 766.8,714.4 767.3,714.0 767.8,715.7 768.3,715.7 768.8,714.8 769.3,714.5 769.8,714.9 770.3,713.4 770.8,714.2 771.3,713.3 771.8,713.8 772.3,716.4 772.8,713.5 773.3,712.2 773.8,713.8 774.3,714.1 774.8,715.4 775.3,713.9 775.8,715.3 776.3,716.0 776.8,713.9 777.3,713.1 777.8,714.4 778.3,714.5 778.8,714.9 779.3,712.5 779.8,713.4 780.3,714.1 780.8,714.0 781.3,713.6 781.8,712.6 782.3,714.4 782.8,714.8 783.3,713.5 783.8,713.8 784.3,715.2 784.8,713.7 785.3,714.0 785.8,714.1 786.3,713.8 786.8,713.9 787.3,712.3 787.8,713.4 788.3,713.3 788.8,714.7 789.3,714.2 789.8,715.0 790.3,715.1 790.8,713.5 791.3,712.1 791.8,713.7 792.3,714.2 792.8,714.1 793.3,713.7 793.8,714.7 794.3,714.6 794.8,714.1 795.3,713.0 795.8,714.5 796.3,716.4 796.8,713.7 797.3,714.2 797.8,715.2 798.3,715.3 798.8,718.0 799.3,715.5 799.8,714.8 800.3,714.0 800.8,714.5 801.3,715.4 801.8,714.5 802.3,713.9 802.8,713.3 803.3,713.6 803.8,712.8 804.3,716.1 804.8,713.7 805.3,713.5 805.8,714.8 806.3,713.5 806.8,714.2 807.3,714.7 807.8,714.7 808.3,712.6 808.8,712.5 809.3,712.0 809.8,712.5 810.3,712.6 810.8,714.6 811.3,713.6 811.8,713.5 812.3,711.0 812.8,714.1 813.3,714.6 813.8,714.3 814.3,711.9 814.8,713.6 815.3,712.1 815.8,713.4 816.3,711.6 816.8,714.4 817.3,713.2 817.8,711.7 818.3,712.5 818.8,713.3 819.3,710.4 819.8,713.4 820.3,712.4 820.8,709.9 821.3,708.7 821.8,710.0 822.3,711.0 822.8,710.2 823.3,708.7 823.8,706.3 824.3,702.7 824.8,700.5 825.3,697.8 825.8,696.1 826.3,691.0 826.8,687.3 827.3,683.5 827.8,681.5 828.3,680.3 828.8,678.4 829.3,679.3 829.8,684.1 830.3,687.0 830.8,689.8 831.3,693.2 831.8,696.4 832.3,701.4 832.8,702.8 833.3,707.4 833.8,710.4 834.3,709.6 834.8,709.5 835.3,712.5 835.8,711.8 836.3,711.8 836.8,712.2 837.3,712.2 837.8,711.3 838.3,713.0 838.8,713.3 839.3,712.3 839.8,711.8 840.3,713.6 840.8,711.7 841.3,712.6 841.8,713.8 842.3,713.7 842.8,714.8 843.3,713.2 843.8,713.7 844.3,711.7 844.8,716.7 845.3,715.5 845.8,714.8 846.3,713.8 846.8,714.7 847.3,715.1 847.8,713.8 848.3,714.8 848.8,714.2 849.3,713.6 849.8,713.5 850.3,716.1 850.8,715.3 851.3,714.1 851.8,715.0 852.3,715.7 852.8,714.4 853.3,714.8 853.8,714.4 854.3,713.9 854.8,715.6 855.3,714.0 855.8,714.8 856.3,714.7 856.8,714.0 857.3,716.9 857.8,716.8 858.3,716.2 858.8,714.1 859.3,714.9 859.8,715.8 860.3,716.3"/>
<polyline class="tr" points="76.8,840.9 77.3,838.9 77.8,840.7 78.3,840.1 78.8,841.2 79.3,836.1 79.8,840.8 80.3,842.8 80.8,843.8 81.3,841.4 81.8,842.4 82.3,841.1 82.8,840.7 83.3,843.8 83.8,841.1 84.3,842.7 84.8,842.8 85.3,843.2 85.8,841.7 86.3,842.6 86.8,842.6 87.3,841.8 87.8,843.9 88.3,838.5 88.8,839.7 89.3,841.9 89.8,840.7 90.3,843.2 90.8,841.2 91.3,844.5 91.8,841.7 92.3,841.2 92.8,842.2 93.3,839.9 93.8,842.8 94.3,840.9 94.8,840.1 95.3,840.1 95.8,841.2 96.3,837.5 96.8,839.1 97.3,839.6 97.8,842.5 98.3,841.0 98.8,842.3 99.3,836.9 99.8,840.1 100.3,842.5 100.8,839.4 101.3,839.0 101.8,842.6 102.3,841.2 102.8,836.4 103.3,841.4 103.8,841.0 104.3,835.3 104.8,841.6 105.3,844.2 105.8,843.7 106.3,841.5 106.8,839.9 107.3,843.5 107.8,846.1 108.3,840.8 108.8,842.4 109.3,843.2 109.8,843.9 110.3,839.5 110.8,841.9 111.3,844.3 111.8,843.4 112.3,842.1 112.8,843.9 113.3,841.8 113.8,838.1 114.3,838.4 114.8,837.8 115.3,837.4 115.8,838.6 116.3,837.4 116.8,840.5 117.3,833.6 117.8,830.3 118.3,825.2 118.8,815.2 119.3,800.8 119.8,778.5 120.3,755.0 120.8,732.3 121.3,723.0 121.8,732.6 122.3,752.1 122.8,778.8 123.3,799.1 123.8,815.0 124.3,825.7 124.8,830.8 125.3,834.3 125.8,837.0 126.3,836.4 126.8,838.8 127.3,838.5 127.8,840.9 128.3,841.3 128.8,840.5 129.3,838.4 129.8,842.5 130.3,842.7 130.8,842.4 131.3,842.0 131.8,841.6 132.3,840.5 132.8,841.9 133.3,841.1 133.8,841.5 134.3,842.3 134.8,842.1 135.3,840.9 135.8,841.3 136.3,840.0 136.8,841.3 137.3,841.6 137.8,842.8 138.3,842.5 138.8,841.4 139.3,841.6 139.8,840.2 140.3,842.7 140.8,841.5 141.3,842.2 141.8,844.4 142.3,843.3 142.8,841.5 143.3,842.0 143.8,842.2 144.3,840.3 144.8,841.5 145.3,840.9 145.8,840.3 146.3,841.5 146.8,840.6 147.3,842.4 147.8,842.9 148.3,840.5 148.8,840.3 149.3,840.7 149.8,842.2 150.3,842.0 150.8,842.7 151.3,842.8 151.8,841.6 152.3,842.3 152.8,840.6 153.3,843.6 153.8,842.6 154.3,843.2 154.8,843.3 155.3,840.0 155.8,840.3 156.3,841.6 156.8,841.6 157.3,841.8 157.8,842.6 158.3,845.9 158.8,845.1 159.3,841.9 159.8,845.3 160.3,840.9 160.8,841.6 161.3,842.2 161.8,842.1 162.3,841.7 162.8,843.0 163.3,840.4 163.8,842.4 164.3,843.0 164.8,840.0 165.3,841.7 165.8,841.4 166.3,840.6 166.8,839.6 167.3,841.9 167.8,841.9 168.3,843.4 168.8,841.7 169.3,839.7 169.8,842.5 170.3,842.8 170.8,843.4 171.3,843.1 171.8,843.1 172.3,841.7 172.8,841.3 173.3,844.0 173.8,841.3 174.3,840.4 174.8,841.0 175.3,843.1 175.8,841.2 176.3,842.5 176.8,843.1 177.3,843.5 177.8,843.6 178.3,842.2 178.8,841.5 179.3,844.4 179.8,844.6 180.3,841.2 180.8,843.4 181.3,839.9 181.8,841.6 182.3,843.7 182.8,840.9 183.3,840.8 183.8,843.9 184.3,842.4 184.8,840.5 185.3,843.6 185.8,841.7 186.3,841.7 186.8,839.9 187.3,840.4 187.8,842.3 188.3,843.4 188.8,842.2 189.3,841.6 189.8,841.8 190.3,842.0 190.8,842.8 191.3,840.6 191.8,842.4 192.3,842.8 192.8,841.7 193.3,841.8 193.8,842.0 194.3,840.6 194.8,843.2 195.3,841.9 195.8,841.2 196.3,842.7 196.8,842.2 197.3,841.6 197.8,841.9 198.3,842.3 198.8,843.7 199.3,843.4 199.8,842.5 200.3,842.8 200.8,843.0 201.3,843.1 201.8,844.4 202.3,841.8 202.8,843.7 203.3,840.8 203.8,839.4 204.3,841.6 204.8,841.9 205.3,843.2 205.8,843.7 206.3,842.8 206.8,841.4 207.3,842.4 207.8,844.3 208.3,841.6 208.8,842.8 209.3,841.3 209.8,842.2 210.3,843.1 210.8,842.6 211.3,841.3 211.8,842.6 212.3,840.7 212.8,842.8 213.3,840.5 213.8,843.4 214.3,843.2 214.8,841.2 215.3,840.1 215.8,841.8 216.3,840.5 216.8,842.4 217.3,842.6 217.8,841.4 218.3,839.1 218.8,841.6 219.3,843.2 219.8,844.2 220.3,841.3 220.8,840.4 221.3,841.6 221.8,840.9 222.3,841.9 222.8,839.8 223.3,840.7 223.8,842.9 224.3,842.1 224.8,840.0 225.3,841.5 225.8,844.0 226.3,841.9 226.8,842.2 227.3,844.6 227.8,841.3 228.3,840.2 228.8,842.5 229.3,843.0 229.8,842.4 230.3,842.7 230.8,842.3 231.3,841.7 231.8,844.0 232.3,842.9 232.8,840.3 233.3,842.6 233.8,842.5 234.3,842.2 234.8,843.5 235.3,844.3 235.8,840.3 236.3,842.7 236.8,843.8 237.3,841.7 237.8,843.1 238.3,843.4 238.8,843.0 239.3,844.0 239.8,843.7 240.3,841.6 240.8,842.7 241.3,843.1 241.8,841.1 242.3,841.6 242.8,842.9 243.3,844.0 243.8,842.8 244.3,840.5 244.8,842.8 245.3,839.5 245.8,842.1 246.3,843.5 246.8,842.4 247.3,840.0 247.8,842.2 248.3,841.0 248.8,840.6 249.3,842.0 249.8,840.2 250.3,839.5 250.8,840.1 251.3,842.9 251.8,840.8 252.3,840.3 252.8,840.2 253.3,839.2 253.8,840.8 254.3,841.1 254.8,843.4 255.3,842.2 255.8,839.4 256.3,841.8 256.8,840.7 257.3,842.4 257.8,840.6 258.3,841.6 258.8,839.8 259.3,840.3 259.8,839.7 260.3,841.6 260.8,839.8 261.3,838.5 261.8,843.0 262.3,840.2 262.8,839.6 263.3,838.5 263.8,838.4 264.3,838.3 264.8,838.7 265.3,838.1 265.8,838.7 266.3,838.5 266.8,839.4 267.3,838.0 267.8,837.6 268.3,834.9 268.8,837.4 269.3,835.2 269.8,834.9 270.3,833.7 270.8,831.5 271.3,831.6 271.8,830.9 272.3,827.5 272.8,823.5 273.3,819.9 273.8,813.8 274.3,809.0 274.8,797.4 275.3,787.9 275.8,776.5 276.3,762.2 276.8,753.5 277.3,746.7 277.8,747.2 278.3,758.1 278.8,770.7 279.3,781.1 279.8,793.1 280.3,802.6 280.8,814.0 281.3,818.9 281.8,820.6 282.3,827.1 282.8,829.4 283.3,830.8 283.8,832.4 284.3,833.8 284.8,837.6 285.3,834.9 285.8,837.3 286.3,835.4 286.8,835.5 287.3,838.4 287.8,837.4 288.3,836.0 288.8,836.1 289.3,837.1 289.8,838.9 290.3,838.2 290.8,839.8 291.3,837.2 291.8,838.7 292.3,837.4 292.8,841.8 293.3,839.7 293.8,839.4 294.3,838.9 294.8,839.3 295.3,836.7 295.8,837.0 296.3,832.5 296.8,832.8 297.3,830.0 297.8,826.4 298.3,819.4 298.8,811.9 299.3,802.4 299.8,788.8 300.3,764.2 300.8,736.4 301.3,701.5 301.8,665.7 302.3,629.5 302.8,599.0 303.3,352.7 303.8,352.7 304.3,601.2 304.8,636.7 305.3,671.7 305.8,709.3 306.3,742.4 306.8,769.8 307.3,791.3 307.8,804.6 308.3,815.2 308.8,820.6 309.3,827.0 309.8,829.3 310.3,832.0 310.8,835.8 311.3,838.9 311.8,839.2 312.3,838.7 312.8,840.6 313.3,839.8 313.8,841.6 314.3,841.3 314.8,840.6 315.3,841.1 315.8,841.5 316.3,841.5 316.8,841.3 317.3,841.8 317.8,840.4 318.3,842.2 318.8,838.3 319.3,841.5 319.8,842.8 320.3,843.7 320.8,843.0 321.3,841.5 321.8,842.3 322.3,840.5 322.8,842.0 323.3,842.8 323.8,842.0 324.3,842.2 324.8,841.8 325.3,842.9 325.8,841.9 326.3,843.8 326.8,841.6 327.3,841.8 327.8,841.6 328.3,842.3 328.8,841.6 329.3,841.4 329.8,843.4 330.3,840.4 330.8,841.6 331.3,841.2 331.8,840.0 332.3,843.2 332.8,843.3 333.3,843.2 333.8,842.0 334.3,843.2 334.8,843.2 335.3,840.3 335.8,842.5 336.3,841.9 336.8,841.5 337.3,841.0 337.8,844.2 338.3,842.3 338.8,841.7 339.3,841.4 339.8,843.4 340.3,843.1 340.8,842.3 341.3,842.4 341.8,842.8 342.3,843.0 342.8,842.7 343.3,842.9 343.8,842.2 344.3,843.0 344.8,843.4 345.3,842.7 345.8,842.4 346.3,840.8 346.8,842.3 347.3,844.3 347.8,839.4 348.3,840.4 348.8,841.3 349.3,841.4 349.8,841.9 350.3,839.9 350.8,843.2 351.3,841.1 351.8,841.0 352.3,839.0 352.8,841.8 353.3,840.2 353.8,841.5 354.3,843.2 354.8,843.3 355.3,840.7 355.8,843.3 356.3,842.3 356.8,840.1 357.3,843.2 357.8,841.4 358.3,839.7 358.8,840.1 359.3,841.0 359.8,843.0 360.3,840.3 360.8,841.7 361.3,842.3 361.8,843.5 362.3,844.8 362.8,841.8 363.3,842.7 363.8,844.1 364.3,841.2 364.8,841.9 365.3,843.0 365.8,842.7 366.3,841.5 366.8,841.6 367.3,843.2 367.8,841.2 368.3,842.3 368.8,843.3 369.3,842.2 369.8,842.0 370.3,840.7 370.8,841.2 371.3,844.6 371.8,843.4 372.3,841.3 372.8,841.8 373.3,843.5 373.8,843.0 374.3,840.6 374.8,844.8 375.3,840.7 375.8,840.6 376.3,842.5 376.8,842.3 377.3,841.6 377.8,841.8 378.3,841.4 378.8,840.3 379.3,842.2 379.8,841.4 380.3,840.9 380.8,842.0 381.3,841.5 381.8,839.8 382.3,843.7 382.8,841.1 383.3,841.9 383.8,842.4 384.3,841.6 384.8,841.0 385.3,840.4 385.8,842.4 386.3,840.9 386.8,839.9 387.3,841.3 387.8,840.7 388.3,840.8 388.8,840.5 389.3,842.2 389.8,839.9 390.3,840.9 390.8,839.5 391.3,840.8 391.8,842.5 392.3,840.3 392.8,840.1 393.3,840.4 393.8,842.1 394.3,842.3 394.8,840.3 395.3,842.5 395.8,840.6 396.3,841.4 396.8,842.2 397.3,842.0 397.8,842.1 398.3,841.0 398.8,842.1 399.3,841.2 399.8,841.3 400.3,840.6 400.8,839.7 401.3,842.2 401.8,840.0 402.3,840.6 402.8,839.5 403.3,839.0 403.8,836.4 404.3,835.6 404.8,836.2 405.3,834.2 405.8,830.2 406.3,828.5 406.8,824.2 407.3,823.9 407.8,819.2 408.3,818.8 408.8,820.3 409.3,816.3 409.8,819.6 410.3,820.1 410.8,824.2 411.3,825.4 411.8,831.2 412.3,834.0 412.8,832.7 413.3,834.7 413.8,837.1 414.3,840.0 414.8,837.8 415.3,836.4 415.8,839.9 416.3,840.2 416.8,840.9 417.3,839.7 417.8,840.6 418.3,842.2 418.8,841.5 419.3,839.6 419.8,841.8 420.3,840.4 420.8,839.6 421.3,839.9 421.8,842.7 422.3,840.1 422.8,842.0 423.3,843.1 423.8,840.4 424.3,842.7 424.8,841.1 425.3,839.3 425.8,840.0 426.3,840.6 426.8,839.0 427.3,839.4 427.8,838.0 428.3,836.5 428.8,837.7 429.3,833.4 429.8,833.6 430.3,831.9 430.8,830.4 431.3,830.2 431.8,830.8 432.3,831.0 432.8,833.8 433.3,834.4 433.8,835.7 434.3,838.5 434.8,839.7 435.3,839.7 435.8,840.9 436.3,840.5 436.8,841.6 437.3,842.1 437.8,842.1 438.3,841.8 438.8,841.0 439.3,844.2 439.8,843.1 440.3,843.1 440.8,843.6 441.3,843.5 441.8,841.7 442.3,841.8 442.8,843.5 443.3,844.6 443.8,842.5 444.3,842.3 444.8,844.2 445.3,842.6 445.8,842.3 446.3,842.4 446.8,843.6 447.3,842.3 447.8,842.9 448.3,841.8 448.8,842.5 449.3,842.1 449.8,842.5 450.3,842.6 450.8,842.0 451.3,841.4 451.8,842.8 452.3,842.2 452.8,839.6 453.3,843.0 453.8,843.9 454.3,843.6 454.8,842.8 455.3,842.3 455.8,844.7 456.3,844.3 456.8,841.1 457.3,843.5 457.8,841.2 458.3,840.6 458.8,845.3 459.3,841.5 459.8,841.8 460.3,842.2 460.8,841.4 461.3,841.6 461.8,840.9 462.3,839.6 462.8,841.4 463.3,843.2 463.8,840.4 464.3,840.6 464.8,840.4 465.3,841.7 465.8,841.1 466.3,839.7 466.8,841.9 467.3,842.7 467.8,840.5 468.3,842.3 468.8,840.5 469.3,842.2 469.8,842.0 470.3,841.2 470.8,841.0 471.3,842.2 471.8,839.8 472.3,842.2 472.8,841.1 473.3,842.7 473.8,842.4 474.3,842.3 474.8,841.5 475.3,841.5 475.8,841.5 476.3,841.7 476.8,840.9 477.3,840.8 477.8,842.1 478.3,841.4 478.8,841.0 479.3,840.8 479.8,841.1 480.3,842.1 480.8,842.1 481.3,841.7 481.8,841.5 482.3,843.0 482.8,843.0 483.3,842.3 483.8,841.8 484.3,842.5 484.8,842.4 485.3,842.7 485.8,841.5 486.3,844.2 486.8,842.0 487.3,842.6 487.8,841.8 488.3,841.8 488.8,845.5 489.3,841.0 489.8,841.3 490.3,840.5 490.8,841.2 491.3,841.1 491.8,841.4 492.3,840.3 492.8,843.6 493.3,842.5 493.8,843.3 494.3,841.0 494.8,841.6 495.3,840.0 495.8,841.4 496.3,841.8 496.8,841.5 497.3,842.1 497.8,843.5 498.3,841.4 498.8,841.8 499.3,842.0 499.8,842.7 500.3,841.3 500.8,842.2 501.3,840.8 501.8,841.4 502.3,841.6 502.8,843.1 503.3,840.8 503.8,839.8 504.3,841.0 504.8,841.6 505.3,840.2 505.8,840.0 506.3,841.5 506.8,838.1 507.3,839.7 507.8,839.4 508.3,840.6 508.8,840.6 509.3,842.2 509.8,841.6 510.3,841.2 510.8,840.7 511.3,842.1 511.8,842.5 512.3,840.3 512.8,841.5 513.3,840.7 513.8,841.8 514.3,842.5 514.8,842.0 515.3,844.7 515.8,841.2 516.3,841.3 516.8,840.5 517.3,842.0 517.8,839.6 518.3,840.5 518.8,844.0 519.3,844.1 519.8,841.8 520.3,843.7 520.8,842.6 521.3,842.5 521.8,842.7 522.3,840.8 522.8,841.9 523.3,841.8 523.8,842.3 524.3,839.4 524.8,841.1 525.3,843.3 525.8,841.9 526.3,843.3 526.8,842.7 527.3,842.7 527.8,844.0 528.3,844.4 528.8,843.6 529.3,841.9 529.8,845.6 530.3,841.9 530.8,844.8 531.3,843.6 531.8,843.3 532.3,841.7 532.8,842.6 533.3,843.8 533.8,843.4 534.3,842.4 534.8,841.5 535.3,842.4 535.8,842.6 536.3,842.9 536.8,840.6 537.3,843.2 537.8,842.9 538.3,842.0 538.8,840.9 539.3,844.2 539.8,841.2 540.3,841.1 540.8,841.9 541.3,844.4 541.8,843.4 542.3,842.8 542.8,842.4 543.3,844.1 543.8,843.1 544.3,841.7 544.8,843.1 545.3,843.0 545.8,843.1 546.3,844.4 546.8,843.2 547.3,843.0 547.8,842.1 548.3,843.6 548.8,844.1 549.3,843.4 549.8,843.7 550.3,841.9 550.8,843.1 551.3,844.1 551.8,841.9 552.3,842.5 552.8,842.2 553.3,841.8 553.8,841.1 554.3,843.2 554.8,841.7 555.3,842.1 555.8,842.4 556.3,842.6 556.8,842.8 557.3,841.9 557.8,841.9 558.3,841.4 558.8,840.4 559.3,843.3 559.8,840.0 560.3,840.9 560.8,843.6 561.3,842.3 561.8,842.2 562.3,840.8 562.8,842.9 563.3,840.1 563.8,843.3 564.3,842.6 564.8,842.8 565.3,843.7 565.8,843.7 566.3,843.3 566.8,842.8 567.3,843.1 567.8,843.4 568.3,845.2 568.8,842.7 569.3,840.2 569.8,840.2 570.3,840.7 570.8,842.4 571.3,841.3 571.8,842.6 572.3,842.5 572.8,842.0 573.3,840.8 573.8,842.4 574.3,842.6 574.8,841.9 575.3,843.5 575.8,840.9 576.3,840.6 576.8,840.5 577.3,840.9 577.8,842.3 578.3,841.9 578.8,842.4 579.3,840.8 579.8,838.9 580.3,842.2 580.8,840.6 581.3,839.7 581.8,842.1 582.3,838.8 582.8,842.0 583.3,841.6 583.8,840.9 584.3,840.4 584.8,840.7 585.3,842.0 585.8,842.4 586.3,844.4 586.8,842.2 587.3,840.4 587.8,842.4 588.3,840.9 588.8,840.7 589.3,841.4 589.8,842.3 590.3,842.2 590.8,841.6 591.3,843.5 591.8,840.2 592.3,843.0 592.8,842.7 593.3,842.8 593.8,842.4 594.3,841.7 594.8,840.7 595.3,841.9 595.8,840.2 596.3,842.3 596.8,841.4 597.3,841.4 597.8,842.0 598.3,841.5 598.8,843.6 599.3,841.1 599.8,841.6 600.3,842.4 600.8,842.8 601.3,841.5 601.8,843.8 602.3,841.8 602.8,841.6 603.3,839.8 603.8,842.7 604.3,840.9 604.8,841.7 605.3,844.4 605.8,844.3 606.3,843.5 606.8,841.5 607.3,840.8 607.8,842.8 608.3,842.0 608.8,842.4 609.3,845.5 609.8,841.5 610.3,841.1 610.8,845.2 611.3,843.9 611.8,843.0 612.3,842.8 612.8,841.6 613.3,841.4 613.8,843.1 614.3,841.6 614.8,843.0 615.3,842.8 615.8,842.4 616.3,842.0 616.8,843.3 617.3,840.6 617.8,842.3 618.3,842.6 618.8,841.8 619.3,843.4 619.8,842.1 620.3,845.0 620.8,844.2 621.3,842.6 621.8,842.7 622.3,842.8 622.8,843.2 623.3,841.8 623.8,841.1 624.3,843.0 624.8,841.5 625.3,842.1 625.8,844.0 626.3,844.2 626.8,842.5 627.3,841.3 627.8,843.4 628.3,844.9 628.8,841.3 629.3,841.2 629.8,842.6 630.3,841.0 630.8,839.8 631.3,842.8 631.8,842.3 632.3,842.3 632.8,840.8 633.3,843.0 633.8,842.4 634.3,840.7 634.8,841.1 635.3,840.9 635.8,843.3 636.3,841.8 636.8,842.9 637.3,841.1 637.8,841.3 638.3,841.1 638.8,842.2 639.3,841.7 639.8,841.4 640.3,842.2 640.8,841.5 641.3,842.9 641.8,843.2 642.3,844.0 642.8,842.1 643.3,840.8 643.8,841.5 644.3,844.1 644.8,841.7 645.3,842.1 645.8,842.4 646.3,842.2 646.8,841.7 647.3,840.8 647.8,841.1 648.3,840.2 648.8,841.5 649.3,842.8 649.8,840.9 650.3,843.8 650.8,841.5 651.3,843.4 651.8,843.1 652.3,841.2 652.8,843.2 653.3,841.3 653.8,841.5 654.3,842.2 654.8,841.4 655.3,841.4 655.8,841.8 656.3,842.8 656.8,841.3 657.3,842.4 657.8,841.9 658.3,841.3 658.8,841.8 659.3,841.5 659.8,841.0 660.3,840.7 660.8,840.8 661.3,839.1 661.8,840.8 662.3,840.3 662.8,840.6 663.3,841.5 663.8,838.1 664.3,837.8 664.8,836.5 665.3,839.1 665.8,838.4 666.3,838.5 666.8,835.9 667.3,837.4 667.8,839.2 668.3,839.6 668.8,839.7 669.3,841.7 669.8,840.4 670.3,842.4 670.8,841.4 671.3,840.8 671.8,841.3 672.3,842.4 672.8,842.2 673.3,841.0 673.8,842.5 674.3,843.4 674.8,842.5 675.3,842.9 675.8,842.4 676.3,842.2 676.8,842.7 677.3,842.8 677.8,841.3 678.3,841.6 678.8,841.1 679.3,842.1 679.8,842.6 680.3,842.0 680.8,844.0 681.3,843.6 681.8,841.6 682.3,842.9 682.8,842.9 683.3,843.2 683.8,841.6 684.3,843.3 684.8,840.8 685.3,841.5 685.8,843.7 686.3,842.3 686.8,842.8 687.3,841.1 687.8,841.1 688.3,842.3 688.8,842.5 689.3,841.3 689.8,842.6 690.3,840.5 690.8,842.7 691.3,841.6 691.8,843.8 692.3,841.2 692.8,842.2 693.3,840.9 693.8,839.8 694.3,840.9 694.8,843.0 695.3,842.3 695.8,839.6 696.3,840.4 696.8,840.3 697.3,837.9 697.8,839.3 698.3,838.4 698.8,838.7 699.3,840.6 699.8,840.5 700.3,842.5 700.8,841.2 701.3,841.9 701.8,840.3 702.3,841.3 702.8,842.6 703.3,843.3 703.8,842.7 704.3,842.6 704.8,841.7 705.3,841.4 705.8,843.6 706.3,843.5 706.8,842.2 707.3,843.9 707.8,842.8 708.3,844.9 708.8,843.3 709.3,843.4 709.8,843.3 710.3,843.6 710.8,842.3 711.3,841.8 711.8,842.0 712.3,843.1 712.8,843.2 713.3,843.6 713.8,843.8 714.3,843.1 714.8,842.9 715.3,842.8 715.8,842.1 716.3,841.4 716.8,843.2 717.3,842.7 717.8,841.6 718.3,841.9 718.8,843.1 719.3,843.4 719.8,841.4 720.3,843.3 720.8,841.8 721.3,843.2 721.8,840.4 722.3,843.3 722.8,840.4 723.3,841.1 723.8,840.4 724.3,840.5 724.8,841.1 725.3,842.0 725.8,839.0 726.3,841.9 726.8,841.3 727.3,842.9 727.8,841.6 728.3,840.9 728.8,842.2 729.3,841.2 729.8,841.7 730.3,841.9 730.8,840.9 731.3,840.5 731.8,842.2 732.3,843.4 732.8,841.2 733.3,842.9 733.8,842.2 734.3,842.6 734.8,840.4 735.3,839.0 735.8,842.2 736.3,839.5 736.8,841.6 737.3,842.2 737.8,840.6 738.3,839.8 738.8,842.1 739.3,842.5 739.8,840.3 740.3,841.4 740.8,845.4 741.3,842.7 741.8,843.4 742.3,843.1 742.8,842.2 743.3,842.9 743.8,842.9 744.3,840.5 744.8,844.5 745.3,842.6 745.8,842.1 746.3,844.4 746.8,844.0 747.3,843.9 747.8,841.7 748.3,843.7 748.8,842.1 749.3,844.0 749.8,844.2 750.3,842.3 750.8,841.6 751.3,843.9 751.8,843.6 752.3,842.2 752.8,843.5 753.3,843.7 753.8,843.7 754.3,841.9 754.8,845.0 755.3,840.4 755.8,840.5 756.3,840.9 756.8,842.6 757.3,843.1 757.8,841.8 758.3,843.6 758.8,840.0 759.3,842.8 759.8,841.1 760.3,841.4 760.8,842.8 761.3,842.6 761.8,843.3 762.3,842.3 762.8,841.7 763.3,842.2 763.8,842.7 764.3,842.1 764.8,840.8 765.3,841.2 765.8,841.6 766.3,843.0 766.8,842.8 767.3,841.6 767.8,842.5 768.3,843.0 768.8,840.8 769.3,842.1 769.8,842.0 770.3,842.9 770.8,841.9 771.3,841.2 771.8,841.6 772.3,843.6 772.8,842.5 773.3,841.1 773.8,841.3 774.3,840.3 774.8,841.2 775.3,840.4 775.8,838.5 776.3,838.1 776.8,835.4 777.3,836.5 777.8,834.6 778.3,832.7 778.8,834.1 779.3,836.0 779.8,837.4 780.3,838.6 780.8,841.8 781.3,839.2 781.8,840.1 782.3,842.4 782.8,842.5 783.3,840.5 783.8,841.8 784.3,840.7 784.8,841.4 785.3,842.7 785.8,842.1 786.3,841.7 786.8,841.3 787.3,840.4 787.8,842.0 788.3,840.9 788.8,841.6 789.3,841.7 789.8,844.3 790.3,842.4 790.8,843.4 791.3,841.2 791.8,840.7 792.3,841.4 792.8,839.7 793.3,841.6 793.8,841.1 794.3,842.3 794.8,841.6 795.3,843.0 795.8,842.3 796.3,840.9 796.8,842.0 797.3,842.4 797.8,842.4 798.3,841.7 798.8,840.6 799.3,843.6 799.8,842.0 800.3,842.0 800.8,842.3 801.3,841.9 801.8,841.3 802.3,840.5 802.8,843.7 803.3,843.1 803.8,841.6 804.3,843.1 804.8,840.9 805.3,842.2 805.8,841.2 806.3,842.1 806.8,841.8 807.3,837.5 807.8,840.5 808.3,838.2 808.8,839.2 809.3,838.2 809.8,839.5 810.3,837.8 810.8,838.0 811.3,839.9 811.8,838.6 812.3,834.2 812.8,831.0 813.3,829.6 813.8,826.8 814.3,822.9 814.8,818.6 815.3,822.5 815.8,822.1 816.3,824.6 816.8,830.5 817.3,832.8 817.8,834.1 818.3,835.9 818.8,835.1 819.3,836.7 819.8,837.8 820.3,837.4 820.8,836.9 821.3,838.9 821.8,839.8 822.3,838.2 822.8,837.7 823.3,838.1 823.8,839.3 824.3,840.5 824.8,839.4 825.3,839.8 825.8,839.8 826.3,840.5 826.8,839.4 827.3,839.6 827.8,842.1 828.3,840.1 828.8,842.0 829.3,840.9 829.8,841.2 830.3,840.9 830.8,842.0 831.3,842.0 831.8,842.4 832.3,842.3 832.8,843.5 833.3,841.6 833.8,843.1 834.3,842.1 834.8,842.6 835.3,842.0 835.8,841.7 836.3,843.8 836.8,842.4 837.3,842.0 837.8,842.8 838.3,842.8 838.8,841.7 839.3,840.5 839.8,841.5 840.3,841.4 840.8,842.0 841.3,840.2 841.8,842.1 842.3,841.4 842.8,838.6 843.3,841.8 843.8,842.3 844.3,844.3 844.8,844.6 845.3,840.2 845.8,842.3 846.3,843.3 846.8,842.7 847.3,843.4 847.8,842.3 848.3,842.8 848.8,841.3 849.3,840.2 849.8,841.2 850.3,841.8 850.8,841.9 851.3,840.4 851.8,843.4 852.3,843.0 852.8,842.6 853.3,843.2 853.8,841.3 854.3,842.4 854.8,843.0 855.3,841.2 855.8,842.0 856.3,841.7 856.8,842.0 857.3,842.5 857.8,843.1 858.3,841.5 858.8,842.9 859.3,840.7 859.8,841.2 860.3,841.7"/>
<polyline class="tr" points="76.8,969.6 77.3,969.8 77.8,965.5 78.3,971.2 78.8,966.6 79.3,969.3 79.8,972.6 80.3,968.1 80.8,970.7 81.3,968.2 81.8,968.4 82.3,964.3 82.8,970.5 83.3,973.5 83.8,968.5 84.3,967.6 84.8,969.5 85.3,970.6 85.8,968.0 86.3,967.4 86.8,969.8 87.3,967.3 87.8,968.9 88.3,969.3 88.8,971.5 89.3,970.6 89.8,967.7 90.3,966.5 90.8,966.9 91.3,969.6 91.8,970.0 92.3,971.4 92.8,971.3 93.3,970.4 93.8,967.7 94.3,967.3 94.8,968.9 95.3,968.8 95.8,972.0 96.3,970.5 96.8,968.6 97.3,969.7 97.8,968.5 98.3,972.6 98.8,966.8 99.3,970.7 99.8,971.5 100.3,969.8 100.8,978.0 101.3,971.1 101.8,965.8 102.3,971.3 102.8,968.0 103.3,973.2 103.8,972.8 104.3,973.1 104.8,966.6 105.3,973.2 105.8,968.7 106.3,970.9 106.8,967.9 107.3,971.3 107.8,970.4 108.3,968.3 108.8,972.5 109.3,973.3 109.8,964.8 110.3,968.5 110.8,967.8 111.3,968.7 111.8,967.9 112.3,968.6 112.8,967.8 113.3,971.3 113.8,974.2 114.3,970.1 114.8,965.3 115.3,970.0 115.8,972.5 116.3,965.6 116.8,966.5 117.3,969.8 117.8,967.1 118.3,968.2 118.8,970.4 119.3,967.6 119.8,968.2 120.3,968.5 120.8,967.7 121.3,971.0 121.8,969.0 122.3,967.2 122.8,967.7 123.3,970.5 123.8,968.4 124.3,969.8 124.8,968.6 125.3,969.7 125.8,967.3 126.3,966.5 126.8,967.6 127.3,967.6 127.8,968.5 128.3,968.9 128.8,967.1 129.3,967.6 129.8,968.2 130.3,969.1 130.8,969.8 131.3,967.5 131.8,967.5 132.3,968.5 132.8,968.6 133.3,970.3 133.8,969.3 134.3,969.7 134.8,968.1 135.3,968.8 135.8,968.8 136.3,969.7 136.8,968.9 137.3,970.7 137.8,966.7 138.3,968.7 138.8,968.2 139.3,968.1 139.8,969.5 140.3,967.0 140.8,968.4 141.3,968.7 141.8,967.6 142.3,969.9 142.8,968.3 143.3,967.0 143.8,969.4 144.3,968.5 144.8,970.6 145.3,968.9 145.8,968.8 146.3,971.0 146.8,967.6 147.3,967.0 147.8,971.2 148.3,968.6 148.8,969.6 149.3,969.4 149.8,968.6 150.3,969.0 150.8,969.3 151.3,968.9 151.8,969.4 152.3,968.8 152.8,969.9 153.3,968.1 153.8,966.9 154.3,969.0 154.8,969.5 155.3,967.8 155.8,971.4 156.3,969.6 156.8,970.5 157.3,969.7 157.8,970.2 158.3,969.2 158.8,967.4 159.3,969.7 159.8,969.0 160.3,967.5 160.8,968.0 161.3,967.7 161.8,968.7 162.3,969.2 162.8,969.2 163.3,969.1 163.8,970.2 164.3,971.4 164.8,969.4 165.3,968.4 165.8,969.1 166.3,967.2 166.8,967.2 167.3,968.2 167.8,968.7 168.3,967.9 168.8,968.8 169.3,968.8 169.8,969.4 170.3,969.3 170.8,968.0 171.3,968.9 171.8,968.0 172.3,968.6 172.8,968.6 173.3,968.4 173.8,971.4 174.3,969.5 174.8,968.5 175.3,967.1 175.8,968.1 176.3,966.2 176.8,967.3 177.3,968.8 177.8,970.3 178.3,969.5 178.8,969.4 179.3,969.3 179.8,968.9 180.3,971.0 180.8,969.1 181.3,970.1 181.8,970.3 182.3,971.0 182.8,969.3 183.3,970.2 183.8,972.3 184.3,969.7 184.8,969.8 185.3,971.5 185.8,969.1 186.3,970.0 186.8,969.0 187.3,970.8 187.8,970.1 188.3,969.0 188.8,968.6 189.3,970.2 189.8,972.5 190.3,969.5 190.8,969.9 191.3,968.1 191.8,970.6 192.3,968.9 192.8,971.1 193.3,969.1 193.8,969.7 194.3,969.0 194.8,969.4 195.3,969.6 195.8,967.7 196.3,967.9 196.8,969.2 197.3,970.4 197.8,970.2 198.3,968.1 198.8,969.1 199.3,970.1 199.8,970.2 200.3,967.8 200.8,969.2 201.3,970.5 201.8,967.8 202.3,969.1 202.8,971.0 203.3,970.9 203.8,969.0 204.3,970.1 204.8,969.6 205.3,966.9 205.8,966.6 206.3,966.5 206.8,968.1 207.3,968.4 207.8,969.9 208.3,970.0 208.8,968.5 209.3,968.4 209.8,967.5 210.3,967.3 210.8,967.7 211.3,967.5 211.8,967.9 212.3,966.9 212.8,969.7 213.3,966.3 213.8,967.6 214.3,969.6 214.8,967.8 215.3,966.0 215.8,968.4 216.3,967.3 216.8,968.1 217.3,966.4 217.8,967.7 218.3,968.7 218.8,967.7 219.3,967.7 219.8,968.4 220.3,969.2 220.8,970.4 221.3,969.0 221.8,970.7 222.3,970.0 222.8,969.0 223.3,967.7 223.8,968.0 224.3,970.7 224.8,967.7 225.3,971.2 225.8,968.6 226.3,969.0 226.8,968.1 227.3,968.8 227.8,967.9 228.3,969.9 228.8,969.6 229.3,968.5 229.8,970.1 230.3,970.3 230.8,969.7 231.3,971.4 231.8,970.0 232.3,970.9 232.8,968.2 233.3,968.5 233.8,969.1 234.3,967.2 234.8,969.3 235.3,969.9 235.8,969.2 236.3,969.2 236.8,969.9 237.3,969.0 237.8,970.7 238.3,970.6 238.8,969.0 239.3,970.9 239.8,968.2 240.3,968.8 240.8,970.1 241.3,968.1 241.8,968.9 242.3,967.4 242.8,969.2 243.3,969.4 243.8,968.2 244.3,970.0 244.8,967.8 245.3,968.3 245.8,972.3 246.3,968.8 246.8,968.6 247.3,970.0 247.8,968.8 248.3,968.7 248.8,970.5 249.3,968.2 249.8,968.4 250.3,969.2 250.8,968.7 251.3,968.0 251.8,966.7 252.3,967.3 252.8,968.1 253.3,968.3 253.8,968.6 254.3,966.8 254.8,967.5 255.3,968.5 255.8,966.4 256.3,966.9 256.8,968.8 257.3,967.3 257.8,967.6 258.3,967.4 258.8,966.9 259.3,967.8 259.8,967.9 260.3,968.4 260.8,966.7 261.3,967.0 261.8,968.8 262.3,966.8 262.8,966.4 263.3,966.4 263.8,966.8 264.3,965.4 264.8,966.7 265.3,967.5 265.8,964.0 266.3,966.9 266.8,964.7 267.3,962.6 267.8,964.6 268.3,962.1 268.8,963.1 269.3,962.5 269.8,963.4 270.3,959.4 270.8,959.1 271.3,955.6 271.8,954.5 272.3,949.5 272.8,944.3 273.3,936.2 273.8,928.3 274.3,920.1 274.8,905.8 275.3,894.1 275.8,883.2 276.3,875.4 276.8,873.1 277.3,882.4 277.8,892.6 278.3,906.2 278.8,917.3 279.3,928.2 279.8,938.2 280.3,944.1 280.8,949.2 281.3,953.6 281.8,956.2 282.3,957.3 282.8,960.3 283.3,961.6 283.8,961.9 284.3,963.6 284.8,964.1 285.3,965.2 285.8,965.7 286.3,966.2 286.8,965.4 287.3,968.7 287.8,967.1 288.3,966.6 288.8,966.0 289.3,965.8 289.8,969.1 290.3,968.4 290.8,967.8 291.3,969.8 291.8,968.6 292.3,967.7 292.8,968.2 293.3,970.1 293.8,967.5 294.3,969.5 294.8,968.7 295.3,970.7 295.8,969.2 296.3,968.0 296.8,967.7 297.3,968.0 297.8,968.5 298.3,970.0 298.8,970.6 299.3,967.5 299.8,970.3 300.3,969.9 300.8,968.0 301.3,968.7 301.8,967.5 302.3,969.5 302.8,967.7 303.3,965.7 303.8,969.4 304.3,968.7 304.8,969.3 305.3,968.8 305.8,969.2 306.3,967.9 306.8,967.7 307.3,968.5 307.8,967.9 308.3,969.9 308.8,968.3 309.3,969.3 309.8,967.2 310.3,968.0 310.8,970.5 311.3,968.6 311.8,970.3 312.3,968.9 312.8,967.4 313.3,966.3 313.8,968.0 314.3,968.0 314.8,968.2 315.3,968.9 315.8,971.0 316.3,968.2 316.8,968.6 317.3,968.8 317.8,968.6 318.3,968.5 318.8,968.9 319.3,968.0 319.8,969.3 320.3,968.2 320.8,969.7 321.3,969.7 321.8,970.4 322.3,969.9 322.8,971.4 323.3,970.1 323.8,969.2 324.3,967.7 324.8,969.9 325.3,969.2 325.8,969.0 326.3,968.7 326.8,970.5 327.3,969.0 327.8,966.0 328.3,967.2 328.8,969.1 329.3,968.1 329.8,967.2 330.3,968.6 330.8,967.5 331.3,968.0 331.8,969.1 332.3,968.3 332.8,969.6 333.3,968.5 333.8,967.9 334.3,969.0 334.8,967.8 335.3,968.1 335.8,968.3 336.3,969.2 336.8,969.7 337.3,968.8 337.8,968.9 338.3,968.0 338.8,971.0 339.3,968.8 339.8,969.3 340.3,969.6 340.8,970.5 341.3,966.8 341.8,968.5 342.3,969.4 342.8,969.0 343.3,971.2 343.8,969.7 344.3,969.4 344.8,969.7 345.3,971.3 345.8,970.1 346.3,967.9 346.8,968.5 347.3,969.2 347.8,969.0 348.3,966.8 348.8,969.1 349.3,970.3 349.8,971.8 350.3,969.9 350.8,969.9 351.3,971.6 351.8,970.0 352.3,969.6 352.8,969.9 353.3,971.8 353.8,970.9 354.3,971.0 354.8,968.4 355.3,969.7 355.8,970.9 356.3,969.2 356.8,971.8 357.3,970.3 357.8,969.3 358.3,970.9 358.8,971.0 359.3,971.8 359.8,970.8 360.3,968.9 360.8,969.6 361.3,968.8 361.8,970.6 362.3,967.1 362.8,971.8 363.3,971.0 363.8,972.3 364.3,969.3 364.8,969.3 365.3,967.2 365.8,970.0 366.3,970.1 366.8,973.2 367.3,972.1 367.8,969.5 368.3,970.4 368.8,968.9 369.3,970.7 369.8,969.2 370.3,969.4 370.8,971.4 371.3,968.9 371.8,968.2 372.3,969.4 372.8,968.6 373.3,968.8 373.8,969.6 374.3,968.5 374.8,967.1 375.3,970.3 375.8,968.7 376.3,969.5 376.8,969.2 377.3,969.5 377.8,969.5 378.3,969.0 378.8,969.7 379.3,968.8 379.8,971.4 380.3,968.3 380.8,969.8 381.3,969.9 381.8,968.1 382.3,968.4 382.8,968.6 383.3,968.6 383.8,968.9 384.3,970.2 384.8,968.5 385.3,968.6 385.8,968.3 386.3,969.1 386.8,969.2 387.3,969.9 387.8,967.6 388.3,969.9 388.8,968.6 389.3,969.8 389.8,970.8 390.3,969.7 390.8,970.8 391.3,969.8 391.8,969.4 392.3,970.3 392.8,969.6 393.3,969.1 393.8,969.2 394.3,970.5 394.8,969.2 395.3,969.8 395.8,970.0 396.3,969.2 396.8,969.1 397.3,967.7 397.8,968.1 398.3,968.6 398.8,965.7 399.3,966.3 399.8,969.8 400.3,968.9 400.8,967.8 401.3,964.7 401.8,966.2 402.3,963.8 402.8,962.7 403.3,959.5 403.8,959.3 404.3,956.2 404.8,954.7 405.3,951.1 405.8,950.2 406.3,948.4 406.8,948.7 407.3,948.4 407.8,948.2 408.3,948.7 408.8,952.7 409.3,954.1 409.8,957.6 410.3,957.0 410.8,961.8 411.3,961.7 411.8,963.2 412.3,965.7 412.8,967.3 413.3,966.9 413.8,966.1 414.3,969.0 414.8,968.1 415.3,970.6 415.8,968.1 416.3,969.3 416.8,968.8 417.3,968.3 417.8,969.2 418.3,967.4 418.8,967.1 419.3,967.0 419.8,968.5 420.3,969.2 420.8,967.8 421.3,967.5 421.8,969.3 422.3,969.1 422.8,969.0 423.3,967.8 423.8,969.2 424.3,971.2 424.8,968.3 425.3,967.6 425.8,968.4 426.3,967.9 426.8,968.6 427.3,969.8 427.8,967.8 428.3,968.7 428.8,969.6 429.3,967.0 429.8,968.1 430.3,971.4 430.8,967.8 431.3,968.2 431.8,968.9 432.3,968.8 432.8,967.6 433.3,967.6 433.8,967.7 434.3,967.3 434.8,969.1 435.3,966.3 435.8,964.9 436.3,967.6 436.8,967.3 437.3,967.2 437.8,966.6 438.3,969.4 438.8,966.8 439.3,968.8 439.8,968.1 440.3,967.8 440.8,967.7 441.3,968.6 441.8,967.9 442.3,967.2 442.8,968.3 443.3,967.1 443.8,968.8 444.3,971.0 444.8,968.9 445.3,968.6 445.8,968.6 446.3,970.3 446.8,970.1 447.3,969.1 447.8,968.7 448.3,968.9 448.8,967.2 449.3,967.8 449.8,968.1 450.3,968.8 450.8,970.3 451.3,968.2 451.8,969.1 452.3,968.2 452.8,966.4 453.3,968.3 453.8,965.8 454.3,968.1 454.8,967.6 455.3,966.8 455.8,962.3 456.3,955.1 456.8,925.6 457.3,872.6 457.8,810.9 458.3,790.9 458.8,833.9 459.3,896.2 459.8,939.6 460.3,958.0 460.8,964.7 461.3,966.0 461.8,964.9 462.3,968.3 462.8,966.2 463.3,966.6 463.8,969.4 464.3,969.8 464.8,968.7 465.3,967.8 465.8,968.7 466.3,967.6 466.8,968.4 467.3,969.8 467.8,967.5 468.3,967.1 468.8,968.3 469.3,968.4 469.8,969.7 470.3,967.5 470.8,966.6 471.3,968.4 471.8,970.1 472.3,970.1 472.8,968.8 473.3,970.2 473.8,969.4 474.3,970.1 474.8,968.7 475.3,970.3 475.8,968.0 476.3,967.6 476.8,967.6 477.3,970.9 477.8,967.8 478.3,968.8 478.8,968.6 479.3,968.6 479.8,968.5 480.3,968.6 480.8,968.8 481.3,969.1 481.8,969.7 482.3,967.6 482.8,969.1 483.3,969.6 483.8,968.3 484.3,968.6 484.8,969.2 485.3,968.9 485.8,970.8 486.3,970.0 486.8,969.2 487.3,968.5 487.8,968.2 488.3,969.9 488.8,969.1 489.3,968.4 489.8,967.3 490.3,969.0 490.8,968.9 491.3,969.3 491.8,967.9 492.3,967.5 492.8,966.6 493.3,967.9 493.8,966.6 494.3,967.6 494.8,967.4 495.3,969.1 495.8,965.8 496.3,967.8 496.8,966.4 497.3,967.2 497.8,968.3 498.3,968.7 498.8,967.2 499.3,968.6 499.8,968.9 500.3,969.0 500.8,969.3 501.3,969.3 501.8,966.8 502.3,968.2 502.8,967.2 503.3,967.9 503.8,968.7 504.3,969.0 504.8,969.8 505.3,968.5 505.8,968.9 506.3,968.9 506.8,969.2 507.3,968.5 507.8,969.7 508.3,970.5 508.8,969.8 509.3,971.1 509.8,968.9 510.3,967.5 510.8,969.8 511.3,968.4 511.8,967.2 512.3,969.5 512.8,968.6 513.3,968.3 513.8,967.1 514.3,968.4 514.8,969.7 515.3,969.5 515.8,969.8 516.3,969.0 516.8,968.2 517.3,968.3 517.8,969.5 518.3,968.4 518.8,970.7 519.3,968.8 519.8,967.1 520.3,968.4 520.8,969.0 521.3,967.1 521.8,966.8 522.3,968.2 522.8,970.8 523.3,967.8 523.8,966.4 524.3,969.4 524.8,966.1 525.3,969.5 525.8,967.4 526.3,967.5 526.8,967.5 527.3,969.3 527.8,967.5 528.3,970.0 528.8,968.6 529.3,968.7 529.8,968.7 530.3,969.8 530.8,969.5 531.3,970.7 531.8,966.8 532.3,968.1 532.8,969.2 533.3,968.1 533.8,968.4 534.3,966.7 534.8,969.1 535.3,967.3 535.8,970.0 536.3,968.8 536.8,968.0 537.3,968.9 537.8,967.5 538.3,968.5 538.8,969.2 539.3,969.1 539.8,966.8 540.3,968.0 540.8,968.3 541.3,969.7 541.8,969.7 542.3,969.1 542.8,967.6 543.3,967.0 543.8,969.0 544.3,965.9 544.8,967.7 545.3,968.1 545.8,968.0 546.3,969.2 546.8,967.3 547.3,968.3 547.8,967.7 548.3,970.3 548.8,970.2 549.3,967.8 549.8,967.1 550.3,969.1 550.8,969.2 551.3,968.8 551.8,969.2 552.3,969.9 552.8,969.8 553.3,967.1 553.8,969.2 554.3,967.9 554.8,970.5 555.3,968.6 555.8,967.9 556.3,969.5 556.8,968.1 557.3,968.8 557.8,966.3 558.3,969.1 558.8,969.2 559.3,970.4 559.8,969.3 560.3,968.3 560.8,970.0 561.3,967.8 561.8,969.7 562.3,968.8 562.8,967.6 563.3,969.7 563.8,968.8 564.3,969.2 564.8,969.7 565.3,968.4 565.8,971.3 566.3,970.3 566.8,969.5 567.3,969.1 567.8,970.4 568.3,971.0 568.8,967.8 569.3,968.9 569.8,969.0 570.3,969.4 570.8,968.2 571.3,969.2 571.8,971.0 572.3,969.6 572.8,968.4 573.3,971.3 573.8,970.1 574.3,969.2 574.8,969.4 575.3,970.2 575.8,969.2 576.3,968.9 576.8,967.2 577.3,970.2 577.8,969.5 578.3,970.5 578.8,968.0 579.3,968.9 579.8,968.9 580.3,968.7 580.8,967.2 581.3,969.3 581.8,968.7 582.3,968.4 582.8,970.3 583.3,970.7 583.8,968.1 584.3,968.6 584.8,967.8 585.3,968.7 585.8,969.0 586.3,969.1 586.8,968.4 587.3,969.1 587.8,969.3 588.3,967.5 588.8,967.8 589.3,969.0 589.8,967.1 590.3,969.4 590.8,967.7 591.3,967.6 591.8,969.2 592.3,967.0 592.8,970.2 593.3,969.2 593.8,969.9 594.3,967.6 594.8,968.6 595.3,970.0 595.8,969.2 596.3,969.9 596.8,967.8 597.3,969.7 597.8,969.7 598.3,968.6 598.8,969.5 599.3,968.8 599.8,969.0 600.3,969.7 600.8,970.8 601.3,971.5 601.8,969.2 602.3,969.8 602.8,968.8 603.3,969.3 603.8,969.4 604.3,969.7 604.8,968.4 605.3,972.7 605.8,971.4 606.3,968.9 606.8,969.5 607.3,970.4 607.8,970.1 608.3,968.6 608.8,969.1 609.3,969.4 609.8,971.7 610.3,968.6 610.8,970.5 611.3,969.1 611.8,969.3 612.3,971.8 612.8,971.6 613.3,971.5 613.8,971.0 614.3,969.2 614.8,968.4 615.3,969.1 615.8,969.8 616.3,970.4 616.8,967.9 617.3,969.6 617.8,970.5 618.3,969.5 618.8,969.0 619.3,970.1 619.8,970.3 620.3,971.6 620.8,969.4 621.3,970.8 621.8,969.2 622.3,969.7 622.8,969.7 623.3,970.7 623.8,969.2 624.3,971.1 624.8,969.6 625.3,968.1 625.8,967.3 626.3,970.9 626.8,969.4 627.3,969.8 627.8,970.1 628.3,969.0 628.8,971.3 629.3,969.2 629.8,970.8 630.3,968.7 630.8,969.6 631.3,967.2 631.8,968.5 632.3,969.6 632.8,971.2 633.3,972.4 633.8,969.6 634.3,970.1 634.8,968.6 635.3,970.4 635.8,969.3 636.3,970.2 636.8,969.0 637.3,969.1 637.8,970.9 638.3,969.2 638.8,968.2 639.3,968.8 639.8,968.0 640.3,970.2 640.8,971.3 641.3,970.3 641.8,970.5 642.3,967.3 642.8,969.0 643.3,968.2 643.8,967.4 644.3,968.9 644.8,971.6 645.3,971.7 645.8,968.5 646.3,968.2 646.8,970.5 647.3,968.8 647.8,968.7 648.3,969.4 648.8,970.9 649.3,968.3 649.8,970.8 650.3,969.4 650.8,971.5 651.3,970.8 651.8,969.0 652.3,970.8 652.8,971.5 653.3,969.8 653.8,969.7 654.3,970.7 654.8,969.0 655.3,968.6 655.8,968.9 656.3,967.3 656.8,969.5 657.3,967.5 657.8,968.9 658.3,970.2 658.8,970.2 659.3,970.3 659.8,970.6 660.3,968.2 660.8,970.4 661.3,969.1 661.8,968.4 662.3,968.9 662.8,967.7 663.3,969.7 663.8,969.4 664.3,967.1 664.8,967.0 665.3,968.1 665.8,969.2 666.3,969.0 666.8,967.2 667.3,966.0 667.8,968.8 668.3,968.4 668.8,969.4 669.3,967.3 669.8,968.2 670.3,967.8 670.8,969.3 671.3,967.2 671.8,968.3 672.3,967.7 672.8,969.3 673.3,969.8 673.8,968.7 674.3,968.8 674.8,967.8 675.3,967.9 675.8,970.6 676.3,971.3 676.8,968.0 677.3,969.7 677.8,969.7 678.3,968.4 678.8,969.1 679.3,969.2 679.8,968.8 680.3,969.6 680.8,969.4 681.3,969.6 681.8,968.8 682.3,969.7 682.8,967.3 683.3,968.4 683.8,968.9 684.3,967.7 684.8,968.4 685.3,967.9 685.8,968.0 686.3,970.3 686.8,967.5 687.3,967.7 687.8,969.0 688.3,965.6 688.8,969.8 689.3,967.2 689.8,968.7 690.3,968.5 690.8,967.5 691.3,967.4 691.8,967.6 692.3,970.1 692.8,967.3 693.3,969.5 693.8,969.0 694.3,968.8 694.8,970.2 695.3,967.4 695.8,968.8 696.3,969.9 696.8,969.6 697.3,970.3 697.8,970.3 698.3,968.5 698.8,968.2 699.3,967.3 699.8,966.1 700.3,967.8 700.8,971.4 701.3,968.1 701.8,968.5 702.3,968.1 702.8,967.9 703.3,969.0 703.8,968.3 704.3,968.7 704.8,967.1 705.3,970.1 705.8,970.5 706.3,969.6 706.8,966.4 707.3,971.2 707.8,969.4 708.3,970.2 708.8,969.0 709.3,968.4 709.8,969.9 710.3,967.6 710.8,966.7 711.3,969.5 711.8,968.0 712.3,970.1 712.8,970.4 713.3,968.4 713.8,968.6 714.3,970.8 714.8,969.1 715.3,968.3 715.8,970.5 716.3,971.6 716.8,969.5 717.3,968.7 717.8,969.9 718.3,969.3 718.8,970.4 719.3,969.5 719.8,970.0 720.3,969.3 720.8,968.8 721.3,969.5 721.8,969.6 722.3,971.4 722.8,971.9 723.3,970.5 723.8,970.0 724.3,970.1 724.8,969.7 725.3,970.1 725.8,970.1 726.3,970.3 726.8,969.6 727.3,968.4 727.8,969.5 728.3,970.7 728.8,969.3 729.3,968.5 729.8,965.1 730.3,958.5 730.8,951.5 731.3,932.5 731.8,913.5 732.3,899.1 732.8,907.4 733.3,923.1 733.8,940.5 734.3,956.1 734.8,963.2 735.3,966.4 735.8,967.5 736.3,969.2 736.8,968.4 737.3,969.2 737.8,969.4 738.3,966.8 738.8,970.0 739.3,967.5 739.8,968.6 740.3,968.7 740.8,969.5 741.3,968.6 741.8,968.1 742.3,970.2 742.8,968.4 743.3,971.5 743.8,970.2 744.3,970.6 744.8,969.3 745.3,968.3 745.8,970.0 746.3,968.9 746.8,969.3 747.3,967.7 747.8,971.1 748.3,971.0 748.8,969.5 749.3,971.7 749.8,969.3 750.3,969.1 750.8,970.0 751.3,969.8 751.8,968.8 752.3,968.6 752.8,969.5 753.3,968.7 753.8,970.1 754.3,969.2 754.8,968.3 755.3,968.3 755.8,970.3 756.3,970.1 756.8,970.1 757.3,968.7 757.8,968.4 758.3,970.1 758.8,970.3 759.3,968.7 759.8,971.6 760.3,968.2 760.8,969.1 761.3,970.0 761.8,968.0 762.3,969.2 762.8,970.0 763.3,966.9 763.8,969.2 764.3,968.9 764.8,968.7 765.3,969.2 765.8,968.4 766.3,969.6 766.8,968.0 767.3,968.9 767.8,968.8 768.3,967.7 768.8,970.0 769.3,968.8 769.8,967.9 770.3,967.5 770.8,969.0 771.3,969.6 771.8,968.0 772.3,971.0 772.8,968.0 773.3,971.1 773.8,970.3 774.3,968.0 774.8,969.1 775.3,970.0 775.8,967.9 776.3,968.9 776.8,970.0 777.3,968.6 777.8,968.8 778.3,969.5 778.8,968.5 779.3,968.8 779.8,970.9 780.3,969.2 780.8,969.0 781.3,968.6 781.8,970.0 782.3,968.0 782.8,970.7 783.3,969.9 783.8,969.9 784.3,969.5 784.8,969.9 785.3,969.5 785.8,969.0 786.3,967.5 786.8,970.0 787.3,969.0 787.8,969.8 788.3,969.5 788.8,970.2 789.3,969.9 789.8,967.9 790.3,969.3 790.8,968.7 791.3,970.2 791.8,968.4 792.3,968.3 792.8,968.3 793.3,967.5 793.8,968.5 794.3,969.4 794.8,968.0 795.3,968.2 795.8,966.8 796.3,969.3 796.8,968.8 797.3,967.3 797.8,968.8 798.3,965.9 798.8,965.6 799.3,967.8 799.8,967.2 800.3,966.8 800.8,968.4 801.3,968.7 801.8,966.2 802.3,966.2 802.8,967.5 803.3,967.7 803.8,968.2 804.3,968.5 804.8,965.8 805.3,966.1 805.8,966.5 806.3,967.7 806.8,966.6 807.3,965.1 807.8,966.0 808.3,964.0 808.8,964.0 809.3,965.1 809.8,960.6 810.3,959.7 810.8,958.6 811.3,952.9 811.8,950.0 812.3,943.5 812.8,942.4 813.3,942.4 813.8,944.1 814.3,951.1 814.8,953.3 815.3,955.9 815.8,959.1 816.3,962.6 816.8,962.5 817.3,961.9 817.8,965.4 818.3,965.6 818.8,964.8 819.3,965.8 819.8,966.3 820.3,964.4 820.8,967.3 821.3,965.9 821.8,968.4 822.3,970.4 822.8,967.6 823.3,966.6 823.8,968.1 824.3,965.9 824.8,967.5 825.3,966.9 825.8,967.1 826.3,968.7 826.8,966.2 827.3,966.0 827.8,966.1 828.3,966.4 828.8,966.2 829.3,966.8 829.8,966.4 830.3,967.4 830.8,968.6 831.3,967.2 831.8,966.8 832.3,968.9 832.8,968.3 833.3,967.1 833.8,968.7 834.3,965.4 834.8,967.6 835.3,966.9 835.8,967.4 836.3,967.1 836.8,968.3 837.3,969.3 837.8,969.9 838.3,970.2 838.8,969.4 839.3,970.6 839.8,969.0 840.3,969.9 840.8,969.7 841.3,969.9 841.8,968.2 842.3,969.7 842.8,969.8 843.3,967.1 843.8,969.4 844.3,967.6 844.8,969.6 845.3,969.4 845.8,969.0 846.3,970.9 846.8,967.6 847.3,967.1 847.8,969.6 848.3,967.9 848.8,968.7 849.3,969.5 849.8,967.1 850.3,969.9 850.8,968.8 851.3,967.8 851.8,969.0 852.3,968.3 852.8,970.4 853.3,969.1 853.8,968.9 854.3,970.4 854.8,969.9 855.3,969.6 855.8,969.1 856.3,968.7 856.8,969.1 857.3,970.7 857.8,968.9 858.3,967.5 858.8,969.0 859.3,969.5 859.8,969.1 860.3,968.3"/>
</g>
<rect class="ax" x="76.8" y="372.7" width="783.5" height="630.8"/>
<path class="tk" d="M147.7,372.7v12M147.7,1003.5v-12M218.9,372.7v6M218.9,1003.5v-6M290.1,372.7v12M290.1,1003.5v-12M361.4,372.7v6M361.4,1003.5v-6M432.6,372.7v12M432.6,1003.5v-12M503.9,372.7v6M503.9,1003.5v-6M575.1,372.7v12M575.1,1003.5v-12M646.4,372.7v6M646.4,1003.5v-6M717.6,372.7v12M717.6,1003.5v-12M788.9,372.7v6M788.9,1003.5v-6"/>
<g class="tl" text-anchor="middle" style="font-size:26px">
<text x="148.0" y="1037.6">10</text>
<text x="290.4" y="1037.6">12</text>
<text x="432.9" y="1037.6">14</text>
<text x="575.4" y="1037.6">16</text>
<text x="717.9" y="1037.6">18</text>
<text x="860.4" y="1037.6">20</text>
</g>
<text x="278.3" y="1091.5" font-size="33.1">Diffraction Angle 2<tspan font-family="'Liberation Serif', 'DejaVu Serif', serif" font-size="32">θ</tspan> (deg.)</text>
<text transform="translate(50.6,671.8) rotate(-90)" text-anchor="middle" font-size="32.9">Intensity (arb. units)</text>
<text transform="translate(796.6,414.6) scale(1.14,1)" font-size="37.3" stroke="#000" stroke-width="0.5">(b)</text>
<g class="ph">
<text x="530.4" y="575.2">Bi-V</text><text x="603.2" y="575.2">9.6 GPa</text>
<text x="529.0" y="698.6">Bi-III</text><text x="603.2" y="698.6">7.4 GPa</text>
<text x="533.1" y="826.6">Bi-II</text><text x="603.2" y="826.6">2.2 GPa</text>
<text x="536.7" y="952.4">Bi-I</text><text x="603.2" y="952.4">1.5 GPa</text>
</g><g class="tm">
<text x="866" y="594.3">21.25 ms</text>
<text x="866" y="718.5">17.25 ms</text>
<text x="866" y="845.3">11.25 ms</text>
<text x="866" y="974">4.25 ms</text>
</g>
<g class="pk" text-anchor="middle">
<text font-size="21.4" transform="translate(149.7,430.8) rotate(-90)">(110)</text>
<text font-size="20.1" transform="translate(492.0,505.2) rotate(-90)">(200)</text>
<text font-size="20.8" transform="translate(762.3,439.5) rotate(-90)">(211)</text>
<text font-size="21.7" transform="translate(109.7,633.0) rotate(-90)">(2110)</text>
<text font-size="21.3" transform="translate(207.1,640.7) rotate(-90)">(3100)</text>
<text font-size="21.8" transform="translate(758.0,666.3) rotate(-90)">(4400)</text>
<text font-size="21.0" transform="translate(155.7,753.9) rotate(-90)">(-110)</text>
<text font-size="21.1" transform="translate(340.0,758.6) rotate(-90)">(111)</text>
<text font-size="21.1" transform="translate(445.7,770.4) rotate(-90)">(-311)</text>
<text font-size="20.1" transform="translate(430.8,877.2) rotate(-90)">(006)</text>
<text font-size="20.5" transform="translate(709.1,887.6) rotate(-90)">(107)</text>
</g>
<path class="ld" d="M154,436L171.4,453.5M750.7,468.9L728.4,488M113.8,648L131.2,674.9M194.6,672.8L176,688M138.7,786.6L128.3,803.2M324.2,786.6L312.6,805.2M437.6,803.2L432.7,821.8M434.7,881.4L452.5,898M712.3,889L728.6,905.3"/>
<g class="st">
<text x="288.3" y="520.7">*</text>
<text x="418.6" y="582.7">*</text>
<text x="832.4" y="579.2">*</text>
<text x="285.4" y="649.7">*</text>
<text x="417.6" y="707.7">*</text>
<text x="829.2" y="685.2">*</text>
<text x="278.0" y="751.2">*</text>
<text x="409.6" y="821.5">*</text>
<text x="815.6" y="828.1">*</text>
<text x="277.2" y="875.7">*</text>
<text x="407.6" y="946.2">*</text>
<text x="813.6" y="944.0">*</text>
</g>
</svg></body></html>
